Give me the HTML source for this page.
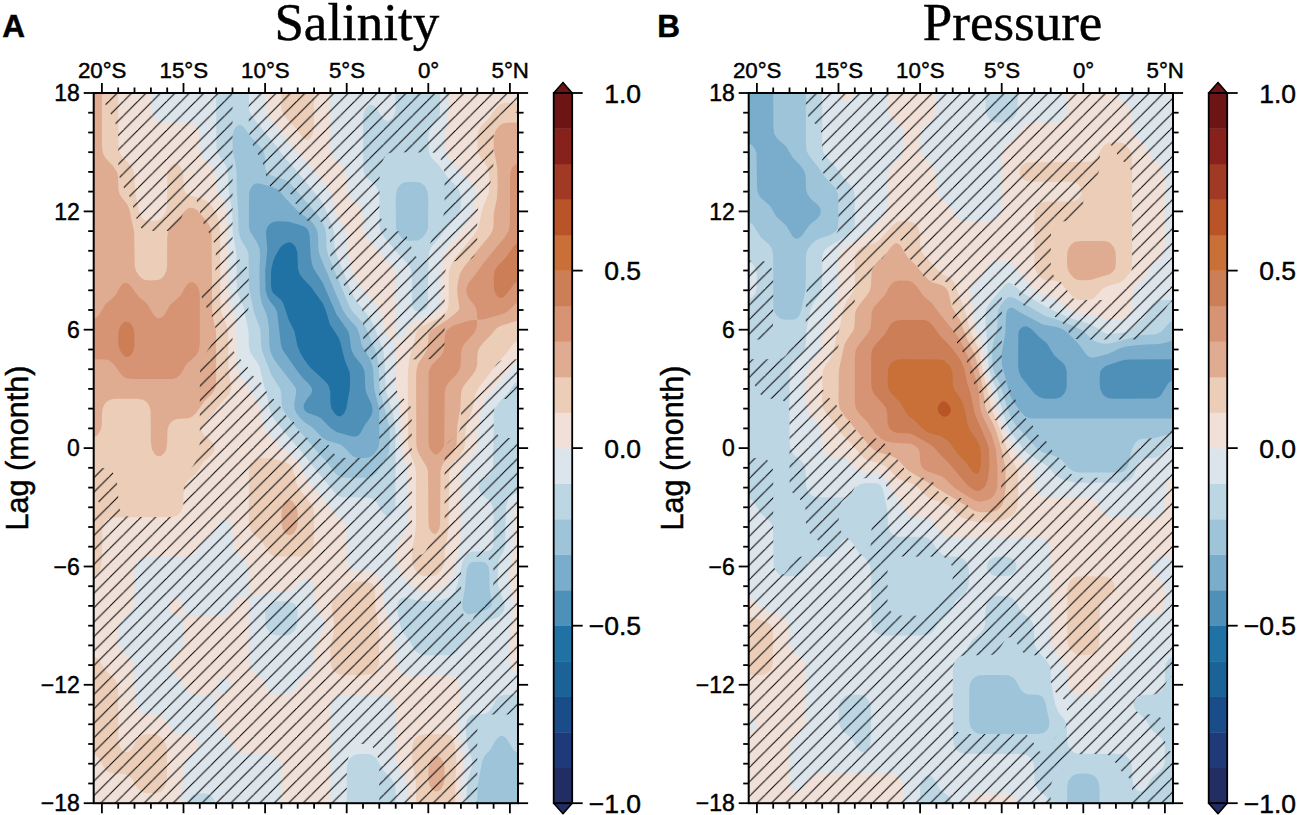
<!DOCTYPE html><html><head><meta charset="utf-8"><style>text{stroke:#000;stroke-width:0.45px}html,body{margin:0;padding:0;background:#fff;width:1297px;height:815px;overflow:hidden}svg{display:block}</style></head><body>
<svg width="1297" height="815" viewBox="0 0 1297 815" font-family="Liberation Sans, sans-serif" fill="#000"><defs><pattern id="hatA" patternUnits="userSpaceOnUse" x="8.00" y="0" width="14.45" height="14.45"><path d="M-1 15.45 L15.45 -1 M13.45 28.90 L28.90 13.45 M-3 3 L3 -3" stroke="#000" stroke-width="1.0" fill="none"/></pattern><pattern id="hatB" patternUnits="userSpaceOnUse" x="13.90" y="0" width="14.45" height="14.45"><path d="M-1 15.45 L15.45 -1 M13.45 28.90 L28.90 13.45 M-3 3 L3 -3" stroke="#000" stroke-width="1.0" fill="none"/></pattern></defs>
<clipPath id="cA"><rect x="93.7" y="93.0" width="424.3" height="710.2"/></clipPath><clipPath id="hA"><path clip-rule="evenodd" d="M103.6 93.0 232.5 93.0 232.6 247.1 233.4 251.9 235.8 256.4 243.7 263.1 246.4 266.3 248.3 271.1 248.8 278.4 248.7 304.9 248.2 309.7 245.7 315.2 235.8 324.1 233.3 328.9 232.6 333.7 232.5 341.0 232.6 345.8 233.4 350.6 236.1 355.4 245.7 363.9 252.0 374.7 261.5 383.0 267.4 393.1 269.4 395.6 276.3 401.2 278.5 403.6 285.2 414.8 294.5 422.8 300.0 432.5 302.9 435.8 306.9 437.7 318.7 438.3 322.7 439.2 326.7 442.1 332.5 452.1 336.5 456.2 340.4 457.7 352.3 458.0 368.1 457.8 372.0 456.8 375.6 454.1 377.3 451.7 378.3 449.3 379.2 444.5 379.2 372.3 378.2 367.4 377.0 365.0 374.0 361.5 366.7 355.4 364.0 350.6 363.2 345.8 363.0 316.9 362.3 309.7 360.2 305.1 358.2 302.8 352.3 298.2 349.5 295.2 344.4 286.0 342.4 283.6 334.5 277.1 332.1 273.6 331.2 271.1 330.5 266.3 330.0 232.6 328.6 228.0 326.9 225.4 324.6 223.3 320.7 221.6 308.9 221.1 304.9 220.0 302.9 218.8 301.0 216.8 298.9 213.4 294.9 201.3 291.1 194.5 289.1 192.9 287.2 192.1 275.3 191.1 273.3 190.2 271.4 188.3 269.4 185.3 267.1 179.7 263.5 165.4 261.7 160.4 253.1 146.0 249.7 136.3 248.8 126.7 248.8 93.0 518.1 93.0 518.1 112.7 506.2 112.8 502.3 113.9 500.3 115.6 498.3 118.3 495.0 126.7 493.6 136.3 493.2 172.4 490.4 182.8 488.5 187.0 481.1 198.9 478.0 208.6 477.3 215.8 477.2 244.7 476.3 251.9 473.6 256.7 470.7 259.2 466.7 260.5 456.9 260.7 452.9 261.4 448.9 263.9 445.8 268.7 444.7 276.0 444.6 343.4 444.2 348.2 443.1 352.0 441.1 355.2 439.1 357.1 435.2 358.9 407.5 359.4 403.6 360.2 399.9 362.6 398.0 365.0 396.8 367.4 395.8 372.3 395.7 384.3 397.2 391.5 399.6 395.3 406.9 401.2 409.0 403.6 410.4 406.0 411.7 410.8 412.1 543.2 413.0 548.0 415.4 552.3 417.4 554.0 419.4 554.8 421.4 554.7 423.3 553.7 425.3 551.8 431.9 540.8 441.1 532.8 443.1 529.6 444.1 526.3 444.6 519.1 444.6 456.5 445.0 449.3 446.7 444.5 448.3 442.1 456.8 434.9 459.8 430.0 460.8 425.2 461.2 410.8 462.5 406.0 466.1 401.2 472.2 396.3 474.4 393.9 480.6 383.3 490.4 374.7 495.9 365.0 498.3 362.2 500.3 360.8 504.2 359.5 518.1 359.3 518.1 398.8 504.2 399.0 502.3 399.4 498.9 401.2 496.4 403.9 494.3 408.4 493.6 418.0 493.7 425.2 494.4 428.8 495.9 432.5 498.3 435.4 500.3 436.8 504.2 438.0 518.1 438.2 518.1 714.4 492.4 714.4 486.5 714.9 482.5 716.8 479.0 721.3 477.6 726.2 477.3 731.0 477.3 803.2 379.3 803.2 379.3 767.1 377.8 757.5 374.9 750.2 372.0 746.3 368.1 744.3 362.1 744.0 358.2 744.3 354.3 746.0 351.1 750.2 348.3 757.5 346.8 767.1 346.7 803.2 93.7 803.2 93.7 516.4 97.1 514.3 99.1 511.9 100.2 509.5 100.5 507.1 100.1 504.7 98.9 502.3 96.7 499.9 93.7 498.2 93.7 467.8 107.6 468.2 109.5 469.0 111.5 470.7 113.4 473.4 115.6 478.2 117.6 485.4 118.8 507.1 121.4 512.6 125.3 515.9 131.2 517.1 170.7 517.1 176.6 515.8 180.6 512.3 182.1 509.5 183.3 504.7 183.8 487.8 185.3 480.6 188.5 472.8 194.4 463.7 196.4 459.7 199.3 449.3 199.8 442.1 199.8 374.7 200.4 367.4 202.2 360.2 204.3 355.4 210.4 345.8 212.8 341.0 215.1 333.7 215.5 328.9 214.7 324.1 213.2 319.3 210.2 313.3 204.3 304.0 201.7 297.6 200.7 292.8 201.4 288.0 202.6 285.6 204.5 283.2 212.2 276.9 214.1 274.1 215.3 271.1 216.1 263.9 215.6 249.5 214.1 243.1 212.2 238.0 204.4 225.4 202.3 220.6 198.3 205.4 196.4 200.0 194.4 196.7 192.4 195.2 190.4 195.4 188.5 197.3 185.5 203.7 180.6 221.6 178.6 225.8 176.6 228.4 174.7 230.0 172.7 230.7 168.7 231.1 147.0 231.0 143.1 229.8 141.1 228.1 139.1 225.2 137.1 220.6 131.2 200.1 129.3 196.0 123.3 186.9 119.5 177.3 118.4 170.0 118.2 136.3 117.4 129.1 114.2 119.5 107.6 109.0 104.6 102.6 102.2 93.0ZM388.5 153.2 385.8 155.2 382.8 160.4 380.4 167.6 379.6 172.4 379.4 208.6 381.1 218.2 383.9 225.1 385.8 228.0 387.8 229.8 391.8 231.0 401.6 231.6 403.6 232.5 405.6 234.2 408.8 239.9 413.9 254.3 417.4 258.1 419.4 258.9 421.4 258.8 423.3 257.8 426.4 254.3 431.5 239.9 433.9 235.0 440.0 225.4 443.5 215.8 444.6 206.1 444.6 177.3 444.0 170.0 442.9 165.2 441.1 160.2 439.1 156.6 437.1 154.3 433.2 152.4 393.7 152.2ZM468.5 557.6 465.1 560.0 463.2 562.5 461.4 567.3 461.0 572.1 460.9 598.6 461.2 605.8 462.8 613.1 466.1 620.2 468.7 622.3 470.7 621.7 472.7 619.5 474.6 615.3 477.6 605.8 480.1 601.0 482.5 598.3 488.5 593.7 492.0 588.9 493.3 584.1 493.6 574.5 493.4 569.7 492.4 564.9 490.4 561.2 488.5 559.1 486.5 557.8 482.5 556.8 472.7 556.7Z"/></clipPath><g clip-path="url(#cA)"><rect x="93.7" y="93.0" width="424.3" height="710.2" fill="#dde5ec"/><path fill="#f0e0d8" d="M95.7 93.0 150.9 93.0 150.9 107.4 151.4 112.3 153.3 117.1 156.9 120.8 158.9 121.8 162.8 122.5 190.4 123.0 194.4 124.9 197.9 129.1 199.4 133.9 199.9 148.4 200.7 153.2 203.3 158.0 212.2 167.4 215.1 172.4 216.0 177.3 216.6 189.3 218.6 194.1 224.0 203.1 226.3 211.0 228.3 254.3 228.5 290.4 230.2 302.4 234.6 316.9 236.2 326.5 236.8 365.0 238.0 372.3 239.8 376.0 246.3 384.3 251.6 393.9 255.6 398.7 258.7 403.6 260.4 408.4 264.0 425.2 267.4 432.7 280.8 446.9 291.1 454.4 295.9 458.9 299.4 463.7 304.9 475.2 308.9 481.2 326.2 502.3 334.5 513.9 341.1 519.1 344.4 523.0 346.4 528.8 346.8 560.0 347.4 564.9 348.7 567.3 351.6 569.7 354.3 570.6 370.0 571.5 374.0 572.5 377.9 574.9 381.2 579.3 383.3 586.5 383.9 605.8 385.3 610.6 391.0 625.1 395.3 646.7 396.0 663.6 397.5 668.4 399.1 670.8 401.6 673.1 403.6 674.1 407.5 674.9 451.0 675.3 454.9 676.8 456.9 678.5 458.9 681.2 460.8 687.6 460.9 699.7 460.4 704.5 457.8 716.5 457.3 723.8 464.1 762.3 463.9 767.1 461.1 783.9 460.9 803.2 407.8 803.2 407.8 788.8 406.9 781.5 403.8 774.3 397.3 764.7 395.9 759.9 395.6 711.7 395.0 704.5 393.7 701.2 391.8 698.3 389.8 696.6 385.8 695.0 340.4 695.0 338.5 695.5 335.4 697.3 331.8 702.1 330.6 706.9 330.4 711.7 330.4 803.2 281.4 803.2 281.3 767.1 280.3 762.3 277.4 757.5 275.3 755.6 271.4 754.2 241.8 753.4 237.8 751.6 235.8 749.6 229.0 738.2 220.4 731.0 217.4 726.2 216.2 718.9 216.0 694.9 196.4 694.7 190.4 693.4 186.5 690.0 180.6 679.8 178.6 677.5 172.7 672.9 169.3 668.4 168.7 664.1 169.6 661.2 171.2 658.8 178.6 652.7 181.4 649.1 183.1 644.3 183.5 639.5 183.5 617.8 182.6 615.7 178.6 615.6 174.7 614.6 170.7 611.5 168.9 608.2 168.6 605.8 169.0 603.4 170.2 601.0 172.7 598.6 174.7 597.8 177.8 598.6 180.5 601.0 182.7 605.8 183.4 615.4 184.5 615.8 220.0 615.7 224.0 615.1 227.9 612.8 229.9 610.5 235.3 601.0 237.8 598.5 241.8 596.7 248.3 596.2 248.8 598.6 248.8 658.8 249.7 666.0 252.2 670.8 261.5 678.9 267.4 689.1 269.4 691.5 271.4 693.0 275.3 694.4 285.2 694.6 289.1 694.1 291.1 693.2 295.0 689.6 301.0 679.4 310.8 670.5 312.8 666.9 313.7 663.6 314.2 649.1 315.0 644.3 317.5 639.5 323.1 632.3 324.6 628.6 325.1 625.1 324.6 622.5 322.7 618.2 316.7 610.6 314.8 606.2 314.1 601.0 313.9 588.9 312.7 584.1 310.8 580.9 308.9 579.0 306.9 578.2 304.9 578.2 302.9 579.0 301.0 580.8 296.7 586.5 293.9 588.9 291.1 590.1 287.2 590.8 271.4 591.4 255.6 595.6 249.7 596.0 248.8 593.8 248.7 572.1 247.6 564.9 244.7 560.0 237.8 554.4 234.5 550.4 232.9 545.6 232.4 531.2 231.6 526.3 229.9 522.7 227.9 520.4 226.0 519.1 224.0 518.8 222.0 519.4 219.5 521.5 212.2 533.4 203.4 540.8 196.4 552.5 192.4 555.5 186.5 556.6 145.1 556.8 141.1 558.1 138.7 560.0 135.7 564.9 134.7 569.7 134.5 601.0 133.9 605.8 131.2 611.4 121.4 620.3 119.4 624.0 118.5 627.5 118.3 639.5 119.4 647.0 122.0 651.5 131.2 659.6 133.2 663.1 134.1 666.0 134.8 702.1 135.9 706.9 137.3 709.3 139.4 711.7 143.1 713.8 156.9 714.7 160.8 716.0 164.1 718.9 170.7 728.3 174.7 732.2 178.6 733.9 188.5 734.3 192.4 735.3 196.2 738.2 197.6 740.6 198.3 743.0 198.3 745.4 197.5 747.8 194.4 751.7 187.4 757.5 184.6 762.3 183.7 767.1 183.2 781.5 180.6 794.3 179.4 803.2 93.7 803.2 93.7 93.0ZM221.0 678.0 218.8 680.4 216.8 685.2 216.2 692.5 218.1 694.6 224.0 693.9 226.8 692.5 229.9 688.9 231.0 685.2 229.9 680.8 227.6 678.0 226.0 677.0 224.0 676.7ZM265.4 93.0 330.4 93.0 330.4 146.0 331.3 153.2 333.9 158.0 342.4 165.2 345.5 170.0 346.5 174.9 347.3 191.7 348.3 194.5 350.3 197.5 358.2 204.2 361.4 208.6 362.7 213.4 363.5 230.2 365.2 235.0 366.9 237.4 376.0 247.0 382.7 256.7 391.8 266.1 394.7 271.1 395.6 278.4 395.6 338.6 393.7 339.4 389.8 338.3 387.8 336.6 385.9 333.7 383.9 328.6 380.9 314.5 378.0 307.3 376.0 304.2 365.4 292.8 356.2 280.0 352.5 273.6 351.0 268.7 347.1 249.5 346.6 235.0 345.8 230.2 343.4 225.4 338.5 218.8 336.5 215.1 334.5 209.1 332.0 196.5 329.3 189.3 325.8 184.5 318.7 177.3 310.8 166.2 299.0 153.7 270.7 119.5 267.3 114.7 266.1 112.3 265.2 107.4ZM449.0 93.0 518.1 93.0 518.1 360.7 514.1 364.2 510.2 368.9 488.5 395.2 484.5 401.2 481.8 408.4 478.0 427.6 477.4 432.5 477.1 444.5 476.3 449.3 473.7 454.1 463.7 466.2 461.4 471.0 461.0 475.8 460.7 543.2 457.1 555.2 454.9 567.3 452.9 573.7 451.0 577.7 447.0 583.1 443.6 586.5 440.2 588.9 435.2 590.7 423.3 590.9 417.4 589.4 411.5 585.1 399.0 572.1 397.5 569.7 396.0 564.9 395.7 552.8 396.6 545.6 399.2 540.8 403.6 535.5 405.6 532.2 407.4 526.3 407.8 478.2 407.4 468.6 403.3 456.5 401.6 449.3 400.2 413.2 398.8 401.2 395.9 386.7 395.7 339.8 401.6 338.6 403.6 337.1 405.6 334.4 409.5 326.0 411.0 324.1 413.5 322.2 432.9 314.5 436.7 312.1 438.9 309.7 439.9 307.3 440.4 302.4 440.8 268.7 441.7 261.5 443.5 254.3 447.8 247.1 468.7 221.1 471.4 215.8 472.9 211.0 476.0 194.1 475.7 189.3 472.7 184.5 464.8 176.3 456.9 165.3 449.0 157.2 446.3 153.2 445.0 149.3 444.7 136.3 448.5 114.7ZM518.1 503.8 518.1 504.7 518.1 674.2 516.0 673.2 513.4 670.8 510.8 666.0 510.0 661.2 509.9 649.1 510.2 627.5 513.1 613.0 513.8 605.8 513.1 598.6 510.2 584.1 510.1 569.7 513.8 548.0 514.2 511.9 515.3 507.1Z"/>
<path fill="#ebcdb8" d="M95.7 93.0 118.2 93.0 118.5 148.4 119.4 151.9 121.4 155.6 130.4 165.2 133.3 170.0 134.4 174.9 135.1 191.7 139.1 211.4 141.1 216.6 143.1 219.3 145.1 220.6 147.0 221.1 156.9 220.8 160.8 218.4 165.0 213.4 166.1 211.0 167.1 206.1 167.2 177.3 167.7 172.4 168.7 169.4 170.7 166.3 172.7 164.6 174.7 163.8 176.6 164.0 178.6 165.0 180.6 167.0 182.2 170.0 183.3 174.9 183.6 186.9 184.9 191.7 187.1 194.1 190.4 195.8 200.3 198.3 206.2 200.8 212.2 206.6 216.6 213.4 218.7 220.6 220.1 232.6 220.4 307.3 222.0 314.5 226.2 324.1 228.1 331.3 228.5 369.9 231.3 389.1 229.6 393.9 220.0 404.2 212.2 415.2 204.7 422.8 202.0 427.6 201.7 430.0 202.4 432.5 204.3 435.1 212.4 442.1 214.1 445.2 214.6 449.3 213.9 451.7 212.2 454.4 204.3 461.0 202.3 463.4 196.4 473.6 188.5 480.2 186.1 483.0 184.8 485.4 183.7 490.2 182.9 507.1 180.6 512.3 176.6 515.8 172.7 517.0 115.4 517.2 111.5 517.5 107.6 519.2 105.2 521.5 103.7 523.9 102.2 528.8 101.9 560.0 101.0 567.3 98.5 572.1 95.9 574.5 93.7 575.6 93.7 93.0ZM283.2 93.0 314.1 93.0 313.9 129.1 312.8 134.3 310.8 137.7 308.9 139.5 306.9 140.0 304.9 139.5 302.9 138.1 294.4 126.7 287.2 119.3 283.6 114.7 281.8 109.8 281.4 105.0 281.4 93.0ZM500.3 104.3 504.2 103.1 518.1 102.9 518.1 340.3 513.6 343.4 506.2 353.6 496.4 364.1 490.8 372.3 479.3 386.7 476.5 391.5 475.0 396.3 472.2 410.8 467.2 422.8 465.7 427.6 464.9 444.5 463.9 449.3 459.5 456.5 451.0 465.9 449.1 471.0 448.6 526.3 447.5 536.0 445.0 548.0 443.9 564.9 441.1 570.3 437.1 574.4 435.2 575.5 431.2 576.3 423.3 576.0 419.4 574.4 415.0 569.7 412.6 564.9 412.0 560.0 412.3 548.0 414.9 536.0 416.0 526.3 416.1 473.4 415.1 466.2 409.5 451.7 408.1 444.5 407.8 374.7 409.1 360.2 410.8 353.0 413.9 343.4 415.9 333.7 418.3 328.9 421.4 326.4 439.1 318.1 443.8 314.5 447.5 309.7 448.6 304.9 448.9 273.6 450.4 266.3 454.9 258.3 473.9 235.0 478.3 227.8 482.5 208.6 488.5 193.9 489.2 189.3 489.4 179.7 488.9 172.4 487.5 167.6 484.5 162.5 480.6 157.8 478.2 153.2 477.3 146.0 477.6 133.9 478.6 130.4 480.7 126.7 489.8 117.1 496.6 107.4ZM257.5 458.6 261.5 458.0 271.4 458.2 285.2 462.3 289.1 464.1 291.3 466.2 292.8 468.6 296.3 483.0 298.4 487.8 309.8 502.3 312.8 507.1 313.6 509.5 314.0 514.3 313.6 545.6 312.8 548.6 310.8 552.1 306.9 555.4 302.9 556.4 299.0 556.6 277.3 556.5 273.3 555.9 268.9 552.8 261.5 540.8 253.6 534.2 251.1 531.2 249.3 526.3 248.8 521.5 248.9 471.0 249.9 466.2 251.6 463.0 253.6 460.7ZM356.2 581.6 368.3 581.7 372.0 583.4 374.2 586.5 375.0 591.3 375.4 608.2 379.2 629.9 379.0 663.6 377.9 667.3 375.9 670.8 373.1 673.2 370.0 674.5 364.1 675.0 340.4 674.7 336.5 673.2 333.8 670.8 332.2 668.4 330.7 663.6 330.5 649.1 333.7 632.3 334.2 625.1 331.6 605.8 332.5 602.3 334.5 599.4 342.4 592.9 348.3 585.3 352.3 582.6ZM94.5 656.3 97.7 658.5 99.7 661.0 105.6 671.1 113.5 677.7 115.4 680.0 117.4 684.4 118.2 690.1 118.4 740.6 119.3 745.4 121.4 749.2 123.3 751.1 125.3 752.0 127.3 752.1 129.3 751.2 132.4 747.8 138.1 738.2 141.1 735.7 145.1 734.4 152.9 734.2 156.9 734.6 160.8 737.0 165.5 743.0 166.5 745.4 167.1 750.2 166.9 781.5 164.8 787.7 160.8 791.7 156.9 793.1 152.9 793.3 145.1 793.1 141.1 791.8 137.2 788.1 132.1 779.1 129.3 776.0 125.3 774.1 113.5 773.5 108.2 771.9 105.6 769.7 103.7 767.1 99.8 759.9 98.0 757.5 93.7 754.6 93.7 656.0ZM419.4 735.2 425.3 734.2 447.0 734.2 451.0 735.6 452.9 738.3 455.0 745.4 456.5 762.3 455.3 783.9 455.2 803.2 416.2 803.2 415.8 781.5 412.3 762.3 412.1 747.8 412.9 743.0 413.9 740.6 415.6 738.2Z"/>
<path fill="#dfac91" d="M95.7 93.0 101.9 93.0 101.9 146.0 102.8 153.2 105.4 158.0 113.5 166.5 117.2 172.4 118.1 177.3 118.4 189.3 119.4 193.4 121.0 196.5 127.3 204.6 129.3 209.0 134.2 232.6 134.7 266.3 136.0 271.1 139.1 275.8 141.9 278.4 145.1 280.0 151.0 280.4 158.9 279.7 161.4 278.4 163.9 276.0 166.4 271.1 167.1 266.3 167.2 237.4 167.9 232.6 168.8 230.2 172.1 225.4 179.3 218.2 184.6 211.0 187.7 208.6 190.4 207.8 192.4 207.9 194.6 208.6 198.0 211.0 208.2 223.2 210.5 227.8 211.6 232.6 212.1 309.7 213.3 319.3 215.8 331.3 216.1 336.2 216.1 379.5 215.7 386.7 214.9 389.1 212.2 393.5 204.3 401.6 196.4 412.5 192.4 416.5 188.5 418.2 176.6 418.9 173.2 420.4 170.5 422.8 168.7 425.8 167.5 430.0 167.0 444.5 166.2 449.3 164.8 452.2 162.8 454.6 160.8 455.9 158.9 456.3 156.9 455.8 154.9 454.4 151.9 449.3 150.9 442.1 150.6 410.8 149.3 406.0 147.9 403.6 145.6 401.2 143.1 399.7 137.2 398.8 115.4 398.8 111.5 399.2 107.6 400.9 104.9 403.6 102.6 408.4 102.0 413.2 101.7 425.2 100.7 430.0 97.7 434.9 93.7 437.5 93.7 93.0ZM502.3 123.7 506.2 122.7 518.1 122.6 518.1 320.5 502.3 325.2 498.3 327.1 495.8 328.9 489.7 336.2 482.5 343.4 479.1 348.2 478.1 350.6 477.3 355.4 477.1 365.0 475.8 369.9 472.6 374.7 464.9 384.3 462.0 389.1 461.0 393.9 460.4 408.4 457.2 425.2 456.7 442.1 456.1 446.9 453.4 451.7 446.5 458.9 443.1 463.7 441.8 466.2 440.5 471.0 440.1 523.9 439.1 529.3 437.1 532.8 435.2 534.0 433.2 533.6 430.8 531.2 429.2 527.9 428.5 523.9 428.0 471.0 426.3 466.2 418.9 454.1 417.1 449.3 416.3 444.5 416.1 377.1 416.5 369.9 417.8 365.0 419.4 361.5 425.1 353.0 427.5 348.2 428.5 336.2 428.9 333.7 430.3 331.3 433.0 328.9 447.0 320.1 457.0 312.1 458.8 309.7 459.3 307.3 457.5 295.2 457.2 288.0 458.2 280.8 460.0 273.6 464.5 266.3 490.1 235.0 492.7 230.2 493.5 225.4 493.8 213.4 496.8 198.9 497.7 186.9 497.2 167.6 493.7 148.4 493.8 136.3 495.2 131.5 496.7 129.1 500.3 125.1ZM289.1 499.7 291.1 500.5 293.1 502.1 296.5 507.1 297.6 511.9 297.7 516.7 297.6 523.9 296.5 528.8 295.0 531.6 293.1 533.8 291.1 534.9 289.1 535.2 287.2 534.5 285.2 532.9 282.6 528.8 281.6 523.9 281.4 516.7 281.7 509.5 283.0 504.7 285.2 501.4 287.2 500.0ZM433.2 756.8 435.2 755.8 437.1 755.7 440.4 757.5 443.5 762.3 444.5 767.1 444.5 779.1 443.8 783.9 441.1 789.2 439.1 790.8 437.1 791.6 434.6 791.2 431.5 788.8 430.0 786.4 428.6 781.5 428.3 771.9 428.8 764.7 430.5 759.9Z"/>
<path fill="#d69474" d="M518.1 162.8 518.1 301.5 509.6 309.7 504.2 313.4 484.5 319.3 478.6 319.8 477.3 319.3 476.9 312.1 475.6 307.3 474.3 304.9 468.7 297.9 467.3 295.2 466.5 292.8 466.5 288.0 468.7 282.7 474.6 275.5 482.8 263.9 504.6 237.4 509.0 230.2 509.9 223.0 510.1 174.9 511.1 170.0 512.3 167.6 514.3 165.2ZM125.3 282.7 127.3 283.1 130.3 285.6 139.1 297.3 145.1 301.9 147.9 304.9 152.9 313.8 154.9 316.3 156.9 317.7 158.9 318.2 162.4 316.9 164.7 314.5 170.1 304.9 180.6 295.4 186.2 285.6 188.5 283.3 190.4 282.3 192.4 282.2 194.4 283.0 196.4 284.7 198.3 287.8 199.6 292.8 199.8 297.6 199.8 343.4 198.8 350.6 196.2 355.4 186.5 364.0 180.6 374.2 176.6 377.7 172.7 378.9 168.7 379.0 133.2 379.0 127.3 378.5 124.1 377.1 121.4 374.7 114.5 365.0 109.5 360.5 105.6 359.4 93.7 359.3 93.7 319.1 97.3 316.9 99.4 314.5 105.6 304.0 113.3 297.6 115.4 295.2 121.4 285.0 123.3 283.3ZM466.7 321.3 470.7 320.3 476.6 320.0 477.2 321.7 476.8 326.5 475.1 331.3 473.6 333.7 464.6 343.4 462.0 348.2 461.1 353.0 460.7 365.0 459.4 369.9 456.2 374.7 449.0 382.0 446.0 386.7 444.7 393.9 444.2 444.5 443.5 446.9 440.2 451.7 437.1 454.3 435.2 454.5 433.2 453.3 430.1 449.3 429.1 446.9 428.4 442.1 428.6 372.3 429.3 369.9 432.0 365.0 441.1 355.4 443.1 352.0 444.5 345.8 444.7 336.2 446.2 331.3 448.3 328.9 452.9 325.7Z"/>
<path fill="#cc7e56" d="M516.1 243.9 518.1 242.3 518.1 281.1 514.1 283.7 507.5 292.8 504.2 296.4 502.3 297.6 500.3 297.9 498.3 297.0 496.5 295.2 494.2 290.4 493.6 278.4 494.6 271.1 497.3 266.3 506.5 256.7 513.2 247.1ZM127.3 321.7 129.3 322.5 131.0 324.1 133.2 327.8 134.2 331.3 134.5 338.6 134.4 345.8 133.5 350.6 131.2 354.8 129.3 356.5 127.3 357.0 125.3 356.5 123.3 355.0 120.0 350.6 118.5 345.8 118.2 338.6 118.6 331.3 120.1 326.5 123.3 322.6 125.3 321.7Z"/>
<path fill="#bcd6e4" d="M218.1 93.0 248.8 93.0 249.1 109.8 249.8 112.3 252.5 117.1 276.2 146.0 284.8 158.0 295.0 168.7 320.7 200.0 324.6 207.0 333.0 227.8 334.2 232.6 334.6 247.1 335.4 251.9 350.3 289.0 356.2 301.0 369.4 316.9 374.0 326.0 383.3 350.6 384.8 365.0 385.5 389.1 392.9 413.2 395.4 427.6 395.5 504.7 393.7 510.6 391.8 513.4 389.8 514.9 387.8 515.5 385.8 515.2 383.9 514.0 381.9 511.8 376.5 502.3 374.1 499.9 372.0 498.6 366.1 497.5 342.4 497.3 338.5 496.0 336.5 494.5 312.8 466.3 301.6 451.7 292.8 442.1 277.3 423.3 273.3 417.9 271.0 413.2 269.5 408.4 267.3 396.3 263.5 383.9 259.8 367.4 257.5 362.7 252.2 355.4 249.7 350.6 248.9 345.8 248.5 331.3 244.7 312.1 243.6 307.3 238.5 295.2 237.1 290.4 236.7 285.6 236.5 254.3 232.8 232.6 232.2 211.0 228.5 189.3 227.9 172.4 226.0 166.0 217.8 153.2 216.4 148.4 216.1 93.0ZM395.7 93.0 440.4 93.0 439.9 112.3 439.1 115.6 437.1 119.8 431.7 126.7 429.2 131.5 428.3 138.7 428.7 150.8 430.2 155.6 431.7 158.0 439.1 165.6 447.6 177.3 454.9 184.7 458.5 189.3 459.8 191.7 460.8 196.5 460.6 208.6 458.7 213.4 454.9 218.3 447.0 226.5 441.2 235.0 431.6 247.1 429.1 251.9 428.3 259.1 428.0 304.9 427.2 307.3 425.0 309.7 421.4 311.5 419.4 311.8 415.4 310.7 414.0 309.7 412.6 307.3 412.0 302.4 411.9 276.0 410.8 268.7 407.9 263.9 397.7 253.2 384.6 237.4 381.3 232.6 380.2 230.2 379.4 225.4 379.3 196.5 378.7 191.7 376.0 186.0 366.1 177.1 364.1 173.3 363.3 170.0 363.0 119.5 363.3 114.7 364.7 109.8 368.1 105.7 370.0 104.7 373.0 105.0 376.2 107.4 381.8 117.1 383.9 119.4 385.8 120.6 387.8 120.9 389.8 120.3 393.1 117.1 395.1 112.3 395.6 107.4ZM518.1 380.4 518.1 492.7 514.1 494.1 510.2 497.1 508.2 500.0 506.5 504.7 505.6 511.9 505.2 545.6 503.9 550.4 498.9 560.0 497.8 567.3 497.8 581.7 498.3 586.5 504.5 603.4 504.5 608.2 503.8 610.6 502.3 613.6 498.3 617.3 484.5 621.7 479.3 625.1 472.7 632.7 464.8 639.2 458.9 649.3 456.9 651.8 453.9 653.9 451.0 654.9 445.0 655.2 425.3 655.2 419.4 654.1 415.4 651.1 409.5 640.9 403.6 633.5 401.6 629.9 400.1 625.1 396.9 608.2 397.3 603.4 399.6 599.7 401.6 598.1 403.6 597.5 405.6 597.6 417.4 600.6 425.3 601.1 439.1 600.6 449.0 597.8 452.9 594.5 455.8 588.9 458.1 581.7 462.3 562.5 464.5 557.6 466.7 554.6 468.7 553.0 472.7 551.6 484.5 551.3 488.5 550.7 490.4 549.8 492.2 548.0 493.1 545.6 493.6 540.8 493.6 514.3 492.9 507.1 490.4 501.9 488.5 499.8 482.5 495.2 480.3 492.6 479.1 490.2 478.6 487.8 478.9 485.4 480.0 483.0 481.9 480.6 490.3 473.4 491.8 471.0 493.2 466.2 493.6 415.6 494.1 410.8 494.9 408.4 498.3 403.2 507.2 393.9 513.9 384.3ZM271.4 602.5 277.3 601.2 289.1 601.5 294.0 603.4 296.3 605.8 297.6 610.6 297.2 625.1 295.0 630.3 291.1 634.0 289.1 634.9 285.2 635.5 275.3 635.3 271.4 633.8 267.5 629.9 266.3 627.5 265.3 622.6 265.3 610.6 265.8 608.2 267.1 605.8ZM506.2 694.8 518.1 694.7 518.1 803.2 466.6 803.2 466.9 783.9 468.6 776.7 471.9 767.1 472.4 762.3 471.5 757.5 468.7 750.1 466.7 741.8 465.7 726.2 466.7 720.7 468.7 717.2 470.7 715.5 474.6 714.5 484.5 713.9 488.5 711.9 490.9 709.3 494.8 702.1 498.3 697.5 502.3 695.3ZM354.3 754.9 358.2 754.0 368.1 754.0 372.0 755.0 376.0 758.1 382.7 769.5 391.8 779.0 394.6 783.9 395.6 788.8 395.7 803.2 346.7 803.2 346.7 771.9 347.2 764.7 348.3 761.0 350.3 757.9ZM196.4 793.5 204.3 793.4 208.2 794.2 211.2 796.0 213.4 798.4 215.5 803.2 188.2 803.2 189.9 798.4 191.5 796.0 194.4 793.9Z"/>
<path fill="#9ec4d9" d="M237.8 125.4 239.8 124.9 241.8 125.4 243.7 126.9 251.6 137.7 259.5 145.8 263.2 150.8 264.8 155.6 265.4 167.6 266.0 170.0 267.5 172.4 271.4 175.4 285.0 179.7 289.1 182.1 316.8 213.7 320.7 219.1 323.8 225.4 325.5 230.2 326.2 235.0 326.4 247.1 327.9 254.3 346.7 300.0 349.8 307.3 352.3 311.3 361.9 321.7 365.2 326.5 374.6 348.2 376.8 355.4 378.7 365.0 379.5 386.7 380.2 391.5 389.5 427.6 390.0 442.1 389.0 451.7 386.1 458.9 376.1 473.4 372.0 476.6 366.1 477.7 346.4 477.7 342.4 477.5 338.5 476.2 334.5 472.6 326.6 461.5 318.7 453.6 303.1 434.9 293.1 423.8 285.3 413.2 282.5 408.4 281.5 403.6 281.3 393.9 280.3 389.1 271.4 374.7 261.9 350.6 261.1 345.8 260.3 328.9 253.8 312.1 249.0 288.0 248.5 254.3 247.0 249.5 241.8 241.0 240.2 237.4 238.5 230.2 238.0 208.6 236.7 189.3 236.6 172.4 235.4 162.8 232.8 150.8 232.5 143.6 232.6 136.3 233.4 131.5 235.8 127.0ZM407.5 181.9 417.4 182.0 421.4 183.1 425.3 186.5 427.7 191.7 428.3 198.9 428.0 227.8 427.3 230.5 424.7 235.0 421.4 238.6 417.4 240.6 407.5 240.8 403.6 239.4 401.3 237.4 397.7 232.7 396.0 227.8 395.7 198.9 396.3 191.7 397.7 188.1 400.6 184.5 403.6 182.6ZM472.7 562.0 480.6 561.8 484.5 562.4 486.5 563.7 488.5 566.7 489.3 572.1 489.7 588.9 491.9 603.4 491.3 605.8 490.4 606.9 486.5 609.8 472.7 613.8 468.7 614.3 465.9 613.0 463.7 610.6 462.5 608.2 462.2 603.4 464.8 588.9 466.7 569.7 468.7 564.5 470.7 562.7ZM498.3 737.2 500.3 736.1 502.3 735.9 504.2 736.6 506.2 738.1 513.8 750.2 518.1 753.1 518.1 803.2 477.3 803.2 477.4 786.4 482.5 760.3 484.5 756.1 490.4 749.4 495.4 740.6Z"/>
<path fill="#7aaccb" d="M255.6 183.5 259.5 183.5 272.1 186.9 277.3 189.3 280.1 191.7 286.1 198.9 297.9 211.0 310.8 220.7 314.6 225.4 316.8 229.4 318.0 235.0 318.4 249.5 319.4 254.3 321.2 259.1 342.7 309.7 347.4 316.9 355.9 326.5 357.5 328.9 359.2 333.7 361.9 345.8 370.0 358.9 373.0 367.4 374.2 389.1 378.5 406.0 379.2 410.8 379.3 442.1 378.5 446.9 377.5 449.3 374.0 454.2 370.0 457.1 366.1 457.9 360.2 457.9 356.2 457.6 353.5 456.5 350.3 454.1 344.0 446.9 340.4 444.6 326.6 440.3 322.7 438.0 312.5 427.6 304.9 422.4 301.0 419.0 296.5 413.2 294.5 408.4 294.3 403.6 296.3 391.5 296.0 389.1 295.0 386.7 277.3 364.1 273.3 358.1 271.4 354.0 270.2 350.6 269.4 345.8 269.0 328.9 267.7 319.3 266.5 314.5 261.6 302.4 259.8 292.8 259.4 273.6 260.1 254.3 259.7 249.5 257.5 243.2 250.7 232.6 249.7 230.2 248.9 225.4 249.0 194.1 250.2 189.3 251.5 186.9 253.6 184.7Z"/>
<path fill="#4f90b8" d="M271.4 222.9 273.3 222.0 277.3 221.3 289.1 221.8 302.9 226.1 306.0 227.8 308.1 230.2 309.6 235.0 310.7 256.7 312.0 263.9 313.7 268.7 322.7 282.7 336.6 314.5 348.2 331.3 349.5 336.2 351.1 348.2 352.3 352.0 354.3 355.7 361.6 365.0 364.1 369.9 364.8 374.7 365.4 389.1 366.8 393.9 372.0 405.2 372.5 410.8 372.0 413.4 370.0 417.7 364.6 425.2 360.8 432.5 358.2 435.4 356.2 436.5 352.3 436.5 336.5 432.0 330.6 427.9 320.7 418.0 316.8 416.0 306.9 412.6 304.9 410.8 303.8 408.4 303.7 406.0 304.3 403.6 306.9 399.2 311.1 393.9 312.0 391.5 312.0 389.1 311.0 386.7 309.1 384.3 302.9 378.0 298.2 372.3 283.0 350.6 281.9 348.2 280.8 343.4 277.1 312.1 274.9 307.3 270.9 302.4 267.8 297.6 265.5 290.4 265.2 271.1 267.3 249.5 266.0 232.6 266.3 230.2 267.4 227.1 269.4 224.5Z"/>
<path fill="#2072a4" d="M285.2 243.4 289.1 242.3 291.1 242.8 293.1 244.0 295.6 247.1 297.3 251.9 298.0 268.7 299.4 273.6 302.9 278.4 310.8 286.7 322.7 303.2 325.6 309.7 329.8 324.1 338.5 337.6 340.4 342.2 344.8 360.2 349.7 372.3 350.1 379.5 349.8 389.1 346.3 408.4 344.1 413.2 342.4 415.1 340.4 416.2 338.5 416.2 336.5 415.2 334.5 413.2 331.5 408.4 330.5 403.6 330.2 391.5 329.0 386.7 327.8 384.3 324.6 380.7 310.2 367.4 304.9 360.5 300.3 353.0 297.4 345.8 294.4 331.3 288.5 319.3 283.2 302.9 281.2 299.9 273.3 293.3 271.8 290.4 271.0 285.6 271.0 273.6 271.4 268.7 273.3 260.8 275.3 255.9 279.3 249.0 281.2 246.6Z"/><rect x="93.7" y="93.0" width="424.3" height="710.2" fill="url(#hatA)" clip-path="url(#hA)"/></g><g stroke="#000" stroke-width="1.8"><line x1="101.9" y1="93.0" x2="101.9" y2="83.0"/><line x1="101.9" y1="803.2" x2="101.9" y2="813.2"/><line x1="118.2" y1="93.0" x2="118.2" y2="87.5"/><line x1="118.2" y1="803.2" x2="118.2" y2="808.7"/><line x1="134.5" y1="93.0" x2="134.5" y2="87.5"/><line x1="134.5" y1="803.2" x2="134.5" y2="808.7"/><line x1="150.9" y1="93.0" x2="150.9" y2="87.5"/><line x1="150.9" y1="803.2" x2="150.9" y2="808.7"/><line x1="167.2" y1="93.0" x2="167.2" y2="87.5"/><line x1="167.2" y1="803.2" x2="167.2" y2="808.7"/><line x1="183.5" y1="93.0" x2="183.5" y2="83.0"/><line x1="183.5" y1="803.2" x2="183.5" y2="813.2"/><line x1="199.8" y1="93.0" x2="199.8" y2="87.5"/><line x1="199.8" y1="803.2" x2="199.8" y2="808.7"/><line x1="216.1" y1="93.0" x2="216.1" y2="87.5"/><line x1="216.1" y1="803.2" x2="216.1" y2="808.7"/><line x1="232.5" y1="93.0" x2="232.5" y2="87.5"/><line x1="232.5" y1="803.2" x2="232.5" y2="808.7"/><line x1="248.8" y1="93.0" x2="248.8" y2="87.5"/><line x1="248.8" y1="803.2" x2="248.8" y2="808.7"/><line x1="265.1" y1="93.0" x2="265.1" y2="83.0"/><line x1="265.1" y1="803.2" x2="265.1" y2="813.2"/><line x1="281.4" y1="93.0" x2="281.4" y2="87.5"/><line x1="281.4" y1="803.2" x2="281.4" y2="808.7"/><line x1="297.7" y1="93.0" x2="297.7" y2="87.5"/><line x1="297.7" y1="803.2" x2="297.7" y2="808.7"/><line x1="314.1" y1="93.0" x2="314.1" y2="87.5"/><line x1="314.1" y1="803.2" x2="314.1" y2="808.7"/><line x1="330.4" y1="93.0" x2="330.4" y2="87.5"/><line x1="330.4" y1="803.2" x2="330.4" y2="808.7"/><line x1="346.7" y1="93.0" x2="346.7" y2="83.0"/><line x1="346.7" y1="803.2" x2="346.7" y2="813.2"/><line x1="363.0" y1="93.0" x2="363.0" y2="87.5"/><line x1="363.0" y1="803.2" x2="363.0" y2="808.7"/><line x1="379.3" y1="93.0" x2="379.3" y2="87.5"/><line x1="379.3" y1="803.2" x2="379.3" y2="808.7"/><line x1="395.7" y1="93.0" x2="395.7" y2="87.5"/><line x1="395.7" y1="803.2" x2="395.7" y2="808.7"/><line x1="412.0" y1="93.0" x2="412.0" y2="87.5"/><line x1="412.0" y1="803.2" x2="412.0" y2="808.7"/><line x1="428.3" y1="93.0" x2="428.3" y2="83.0"/><line x1="428.3" y1="803.2" x2="428.3" y2="813.2"/><line x1="444.6" y1="93.0" x2="444.6" y2="87.5"/><line x1="444.6" y1="803.2" x2="444.6" y2="808.7"/><line x1="460.9" y1="93.0" x2="460.9" y2="87.5"/><line x1="460.9" y1="803.2" x2="460.9" y2="808.7"/><line x1="477.3" y1="93.0" x2="477.3" y2="87.5"/><line x1="477.3" y1="803.2" x2="477.3" y2="808.7"/><line x1="493.6" y1="93.0" x2="493.6" y2="87.5"/><line x1="493.6" y1="803.2" x2="493.6" y2="808.7"/><line x1="509.9" y1="93.0" x2="509.9" y2="83.0"/><line x1="509.9" y1="803.2" x2="509.9" y2="813.2"/><line x1="93.7" y1="803.2" x2="83.7" y2="803.2"/><line x1="518.1" y1="803.2" x2="528.1" y2="803.2"/><line x1="93.7" y1="783.5" x2="88.2" y2="783.5"/><line x1="518.1" y1="783.5" x2="523.6" y2="783.5"/><line x1="93.7" y1="763.7" x2="88.2" y2="763.7"/><line x1="518.1" y1="763.7" x2="523.6" y2="763.7"/><line x1="93.7" y1="744.0" x2="88.2" y2="744.0"/><line x1="518.1" y1="744.0" x2="523.6" y2="744.0"/><line x1="93.7" y1="724.3" x2="88.2" y2="724.3"/><line x1="518.1" y1="724.3" x2="523.6" y2="724.3"/><line x1="93.7" y1="704.6" x2="88.2" y2="704.6"/><line x1="518.1" y1="704.6" x2="523.6" y2="704.6"/><line x1="93.7" y1="684.8" x2="83.7" y2="684.8"/><line x1="518.1" y1="684.8" x2="528.1" y2="684.8"/><line x1="93.7" y1="665.1" x2="88.2" y2="665.1"/><line x1="518.1" y1="665.1" x2="523.6" y2="665.1"/><line x1="93.7" y1="645.4" x2="88.2" y2="645.4"/><line x1="518.1" y1="645.4" x2="523.6" y2="645.4"/><line x1="93.7" y1="625.7" x2="88.2" y2="625.7"/><line x1="518.1" y1="625.7" x2="523.6" y2="625.7"/><line x1="93.7" y1="605.9" x2="88.2" y2="605.9"/><line x1="518.1" y1="605.9" x2="523.6" y2="605.9"/><line x1="93.7" y1="586.2" x2="88.2" y2="586.2"/><line x1="518.1" y1="586.2" x2="523.6" y2="586.2"/><line x1="93.7" y1="566.5" x2="83.7" y2="566.5"/><line x1="518.1" y1="566.5" x2="528.1" y2="566.5"/><line x1="93.7" y1="546.7" x2="88.2" y2="546.7"/><line x1="518.1" y1="546.7" x2="523.6" y2="546.7"/><line x1="93.7" y1="527.0" x2="88.2" y2="527.0"/><line x1="518.1" y1="527.0" x2="523.6" y2="527.0"/><line x1="93.7" y1="507.3" x2="88.2" y2="507.3"/><line x1="518.1" y1="507.3" x2="523.6" y2="507.3"/><line x1="93.7" y1="487.6" x2="88.2" y2="487.6"/><line x1="518.1" y1="487.6" x2="523.6" y2="487.6"/><line x1="93.7" y1="467.8" x2="88.2" y2="467.8"/><line x1="518.1" y1="467.8" x2="523.6" y2="467.8"/><line x1="93.7" y1="448.1" x2="83.7" y2="448.1"/><line x1="518.1" y1="448.1" x2="528.1" y2="448.1"/><line x1="93.7" y1="428.4" x2="88.2" y2="428.4"/><line x1="518.1" y1="428.4" x2="523.6" y2="428.4"/><line x1="93.7" y1="408.6" x2="88.2" y2="408.6"/><line x1="518.1" y1="408.6" x2="523.6" y2="408.6"/><line x1="93.7" y1="388.9" x2="88.2" y2="388.9"/><line x1="518.1" y1="388.9" x2="523.6" y2="388.9"/><line x1="93.7" y1="369.2" x2="88.2" y2="369.2"/><line x1="518.1" y1="369.2" x2="523.6" y2="369.2"/><line x1="93.7" y1="349.5" x2="88.2" y2="349.5"/><line x1="518.1" y1="349.5" x2="523.6" y2="349.5"/><line x1="93.7" y1="329.7" x2="83.7" y2="329.7"/><line x1="518.1" y1="329.7" x2="528.1" y2="329.7"/><line x1="93.7" y1="310.0" x2="88.2" y2="310.0"/><line x1="518.1" y1="310.0" x2="523.6" y2="310.0"/><line x1="93.7" y1="290.3" x2="88.2" y2="290.3"/><line x1="518.1" y1="290.3" x2="523.6" y2="290.3"/><line x1="93.7" y1="270.5" x2="88.2" y2="270.5"/><line x1="518.1" y1="270.5" x2="523.6" y2="270.5"/><line x1="93.7" y1="250.8" x2="88.2" y2="250.8"/><line x1="518.1" y1="250.8" x2="523.6" y2="250.8"/><line x1="93.7" y1="231.1" x2="88.2" y2="231.1"/><line x1="518.1" y1="231.1" x2="523.6" y2="231.1"/><line x1="93.7" y1="211.4" x2="83.7" y2="211.4"/><line x1="518.1" y1="211.4" x2="528.1" y2="211.4"/><line x1="93.7" y1="191.6" x2="88.2" y2="191.6"/><line x1="518.1" y1="191.6" x2="523.6" y2="191.6"/><line x1="93.7" y1="171.9" x2="88.2" y2="171.9"/><line x1="518.1" y1="171.9" x2="523.6" y2="171.9"/><line x1="93.7" y1="152.2" x2="88.2" y2="152.2"/><line x1="518.1" y1="152.2" x2="523.6" y2="152.2"/><line x1="93.7" y1="132.5" x2="88.2" y2="132.5"/><line x1="518.1" y1="132.5" x2="523.6" y2="132.5"/><line x1="93.7" y1="112.7" x2="88.2" y2="112.7"/><line x1="518.1" y1="112.7" x2="523.6" y2="112.7"/><line x1="93.7" y1="93.0" x2="83.7" y2="93.0"/><line x1="518.1" y1="93.0" x2="528.1" y2="93.0"/></g><rect x="93.7" y="93.0" width="424.3" height="710.2" fill="none" stroke="#000" stroke-width="2"/><text x="102.2" y="78.4" text-anchor="middle" font-size="22.3">20°S</text>
<text x="183.8" y="78.4" text-anchor="middle" font-size="22.3">15°S</text>
<text x="265.4" y="78.4" text-anchor="middle" font-size="22.3">10°S</text>
<text x="347.0" y="78.4" text-anchor="middle" font-size="22.3">5°S</text>
<text x="428.6" y="78.4" text-anchor="middle" font-size="22.3">0°</text>
<text x="510.2" y="78.4" text-anchor="middle" font-size="22.3">5°N</text>
<text x="79.8" y="101.1" text-anchor="end" font-size="23">18</text>
<text x="79.8" y="219.5" text-anchor="end" font-size="23">12</text>
<text x="79.8" y="337.8" text-anchor="end" font-size="23">6</text>
<text x="79.8" y="456.2" text-anchor="end" font-size="23">0</text>
<text x="79.8" y="574.6" text-anchor="end" font-size="23">−6</text>
<text x="79.8" y="692.9" text-anchor="end" font-size="23">−12</text>
<text x="79.8" y="811.3" text-anchor="end" font-size="23">−18</text>
<text transform="translate(27.6,448) rotate(-90)" text-anchor="middle" font-size="30.6">Lag (month)</text>
<text x="274.4" y="39.8" font-family="Liberation Serif" font-size="53" stroke="#000" stroke-width="0.9">Salinity</text>
<text x="2.2" y="36.7" font-weight="bold" font-size="31.5">A</text><rect x="553.7" y="767.69" width="18.5" height="35.81" fill="#222d63"/>
<rect x="553.7" y="732.18" width="18.5" height="35.81" fill="#1f3a78"/>
<rect x="553.7" y="696.67" width="18.5" height="35.81" fill="#1a4c89"/>
<rect x="553.7" y="661.16" width="18.5" height="35.81" fill="#1b6397"/>
<rect x="553.7" y="625.65" width="18.5" height="35.81" fill="#2072a4"/>
<rect x="553.7" y="590.14" width="18.5" height="35.81" fill="#4f90b8"/>
<rect x="553.7" y="554.63" width="18.5" height="35.81" fill="#7aaccb"/>
<rect x="553.7" y="519.12" width="18.5" height="35.81" fill="#9ec4d9"/>
<rect x="553.7" y="483.61" width="18.5" height="35.81" fill="#bcd6e4"/>
<rect x="553.7" y="448.10" width="18.5" height="35.81" fill="#dde5ec"/>
<rect x="553.7" y="412.59" width="18.5" height="35.81" fill="#f0e0d8"/>
<rect x="553.7" y="377.08" width="18.5" height="35.81" fill="#ebcdb8"/>
<rect x="553.7" y="341.57" width="18.5" height="35.81" fill="#dfac91"/>
<rect x="553.7" y="306.06" width="18.5" height="35.81" fill="#d69474"/>
<rect x="553.7" y="270.55" width="18.5" height="35.81" fill="#cc7e56"/>
<rect x="553.7" y="235.04" width="18.5" height="35.81" fill="#c97038"/>
<rect x="553.7" y="199.53" width="18.5" height="35.81" fill="#b85428"/>
<rect x="553.7" y="164.02" width="18.5" height="35.81" fill="#a13a24"/>
<rect x="553.7" y="128.51" width="18.5" height="35.81" fill="#86211b"/>
<rect x="553.7" y="93.00" width="18.5" height="35.81" fill="#6d1414"/>
<polygon points="553.7,93.0 563.0,82.4 572.2,93.0" fill="#6d1414" stroke="#000" stroke-width="1.5" stroke-linejoin="round"/>
<polygon points="553.7,803.2 563.0,813.8 572.2,803.2" fill="#222d63" stroke="#000" stroke-width="1.5" stroke-linejoin="round"/>
<rect x="553.7" y="93.0" width="18.5" height="710.2" fill="none" stroke="#000" stroke-width="1.8"/>
<line x1="572.2" y1="93.0" x2="582.7" y2="93.0" stroke="#000" stroke-width="1.8"/>
<text x="641.0" y="102.6" text-anchor="end" font-size="26.5">1.0</text>
<line x1="572.2" y1="270.6" x2="582.7" y2="270.6" stroke="#000" stroke-width="1.8"/>
<text x="641.0" y="280.2" text-anchor="end" font-size="26.5">0.5</text>
<line x1="572.2" y1="448.1" x2="582.7" y2="448.1" stroke="#000" stroke-width="1.8"/>
<text x="641.0" y="457.7" text-anchor="end" font-size="26.5">0.0</text>
<line x1="572.2" y1="625.7" x2="582.7" y2="625.7" stroke="#000" stroke-width="1.8"/>
<text x="641.0" y="635.3" text-anchor="end" font-size="26.5">−0.5</text>
<line x1="572.2" y1="803.2" x2="582.7" y2="803.2" stroke="#000" stroke-width="1.8"/>
<text x="641.0" y="812.8" text-anchor="end" font-size="26.5">−1.0</text>
<clipPath id="cB"><rect x="748.7" y="93.0" width="424.3" height="710.2"/></clipPath><clipPath id="hB"><path clip-rule="evenodd" d="M806.0 93.0 1173.1 93.0 1173.1 300.9 1170.3 302.4 1167.9 304.9 1161.2 316.0 1151.9 324.1 1145.4 335.1 1141.5 338.4 1135.6 339.6 1078.3 339.5 1074.4 338.5 1070.4 335.4 1063.6 324.1 1054.6 316.4 1052.7 313.8 1048.7 306.4 1044.8 302.2 1042.8 301.4 1038.9 301.6 1034.9 303.2 1029.0 306.6 1027.0 307.2 1025.0 306.7 1023.1 304.7 1021.1 300.9 1017.7 290.4 1015.3 285.6 1012.9 283.2 1011.2 282.3 1009.3 282.2 1007.3 282.9 1004.5 285.6 1003.1 288.0 1001.9 292.8 1001.7 345.8 1001.9 367.4 1003.1 374.7 1006.9 384.3 1014.3 396.3 1019.2 410.8 1022.6 415.6 1031.0 422.7 1038.4 434.9 1047.0 442.1 1054.3 454.1 1062.9 461.3 1070.3 473.4 1074.4 476.6 1080.3 477.7 1102.0 477.7 1106.0 477.4 1109.9 475.9 1113.9 471.7 1119.8 461.6 1128.6 454.1 1134.2 444.5 1137.5 440.6 1141.5 438.7 1155.3 437.9 1159.2 436.1 1162.7 432.5 1168.2 422.8 1170.8 420.4 1173.1 419.3 1173.1 675.7 1169.4 678.0 1167.3 680.4 1163.2 688.1 1159.2 692.6 1155.3 694.3 1143.5 694.9 1139.5 695.9 1137.3 697.3 1135.2 699.7 1134.0 702.1 1133.6 704.5 1134.0 706.9 1135.1 709.3 1137.2 711.7 1139.5 713.2 1143.5 714.3 1153.3 714.5 1157.3 715.4 1161.2 718.3 1163.2 721.3 1164.6 726.2 1165.0 740.6 1166.0 745.4 1168.8 750.2 1173.1 753.1 1173.1 803.2 1132.3 803.2 1132.1 786.4 1131.0 781.5 1129.6 778.9 1127.7 776.5 1119.4 769.5 1113.9 759.9 1109.9 755.7 1106.0 754.2 1094.1 753.9 1076.4 754.3 1072.4 756.2 1070.4 758.0 1063.5 769.5 1055.0 776.7 1051.9 781.5 1050.8 786.4 1050.7 803.2 748.7 803.2 748.7 458.0 762.6 458.2 766.5 459.4 770.4 463.1 772.7 468.6 773.2 475.8 773.3 562.5 774.1 567.3 776.4 571.7 778.3 573.6 780.3 574.5 782.3 574.5 784.3 573.7 787.8 569.7 792.2 561.8 796.1 558.1 800.1 556.8 809.9 556.5 813.9 555.9 815.8 555.0 818.3 552.8 819.9 550.4 820.6 548.0 820.7 545.6 820.0 543.2 818.5 540.8 810.0 533.6 807.0 528.8 806.0 523.9 805.6 509.5 804.3 504.7 800.8 499.9 794.7 495.0 792.5 492.6 790.2 487.8 789.5 480.6 789.5 413.2 788.8 408.4 788.0 406.0 786.2 403.1 782.3 399.9 778.3 398.9 766.5 398.4 762.6 396.7 758.6 392.2 754.3 384.3 752.2 381.9 748.7 379.8 748.7 359.3 776.4 359.3 782.3 358.2 786.2 355.0 793.3 343.4 800.1 337.8 803.6 333.7 804.7 331.3 805.7 326.5 805.9 295.2 807.2 288.0 809.9 283.8 817.8 277.3 820.5 273.6 821.9 268.7 822.3 254.3 823.2 249.5 826.0 244.7 833.6 238.4 835.6 236.1 838.0 230.2 838.5 225.4 838.5 198.9 837.9 191.7 835.6 186.6 833.6 184.3 825.7 177.7 823.0 172.4 822.3 167.6 821.8 133.9 820.3 129.1 818.7 126.7 810.2 119.5 807.1 114.7 805.9 107.4ZM1103.7 146.0 1101.8 148.4 1100.1 153.2 1099.3 170.0 1097.9 174.9 1094.2 179.7 1088.1 184.5 1086.0 186.9 1084.2 190.6 1083.4 196.5 1083.1 208.6 1082.0 213.4 1080.8 215.8 1078.3 218.6 1074.4 220.7 1060.6 221.5 1056.8 223.0 1054.6 224.8 1052.7 227.6 1051.0 232.6 1050.7 263.9 1051.5 271.1 1052.7 274.1 1054.6 276.9 1062.3 283.2 1064.4 285.6 1070.4 296.0 1072.4 297.9 1076.4 299.7 1082.3 300.1 1104.0 300.1 1107.9 299.3 1109.9 298.3 1113.1 295.2 1119.8 284.1 1129.0 276.0 1130.5 273.6 1131.9 268.7 1132.3 182.1 1131.7 172.4 1129.6 167.3 1127.7 164.9 1119.4 158.0 1113.9 148.4 1111.9 145.9 1109.9 144.5 1107.9 144.0 1106.0 144.3ZM894.3 235.0 892.8 236.2 890.8 239.6 886.7 251.9 884.9 255.3 882.9 257.7 875.0 264.3 868.0 276.0 859.3 283.4 856.2 288.0 855.0 292.8 854.6 307.3 853.5 312.1 850.3 316.9 843.5 322.4 840.3 326.5 838.8 331.3 838.4 345.8 837.5 350.6 834.8 355.4 826.4 362.6 823.4 367.4 822.2 374.7 822.2 384.3 822.9 389.1 825.7 394.7 835.6 403.6 841.5 413.8 851.5 422.8 857.0 432.5 859.3 435.1 861.2 436.6 865.2 438.0 877.0 438.5 881.0 439.8 884.9 443.6 891.1 454.1 900.7 462.6 905.4 471.0 908.6 474.9 912.5 477.1 926.4 478.0 930.3 479.5 933.9 483.0 938.2 490.9 942.2 495.4 946.1 497.1 957.9 497.6 961.9 498.6 966.2 502.3 971.8 512.0 974.1 514.3 975.7 515.2 977.7 515.4 979.6 514.8 981.6 513.2 988.2 502.3 990.4 499.9 997.4 494.2 999.4 491.6 1001.0 487.8 1001.7 480.6 1001.7 437.3 1000.8 427.6 998.4 422.8 989.9 415.6 986.6 410.8 981.6 396.3 974.2 384.3 972.0 379.5 965.7 357.8 963.3 353.0 957.9 344.9 955.1 338.6 953.3 331.3 952.8 326.5 952.5 292.8 951.4 288.0 950.1 285.6 947.9 283.2 944.1 281.0 930.3 280.2 926.4 278.8 924.4 277.2 922.4 274.8 916.5 264.6 908.6 258.0 905.7 254.3 900.7 240.3 898.7 236.6 896.8 234.8ZM864.0 478.2 861.2 479.3 859.3 480.8 857.3 483.1 851.4 493.3 843.5 499.9 841.4 502.3 839.2 507.1 838.5 514.3 839.0 526.3 840.9 531.2 843.5 534.4 851.4 541.0 856.8 550.4 858.7 552.8 861.2 554.6 863.2 554.9 865.2 554.4 867.2 552.9 870.1 548.0 871.0 543.2 871.5 528.8 872.9 523.9 875.0 520.8 882.8 514.3 884.9 511.8 886.9 507.1 887.5 499.9 886.9 487.8 884.9 483.1 882.9 480.7 881.0 479.2 877.0 477.9 869.1 477.7ZM895.0 557.6 892.8 558.9 889.8 562.5 888.6 564.9 887.6 569.7 887.5 601.0 888.1 605.8 890.2 610.6 892.3 613.0 894.8 614.7 898.7 615.6 924.4 615.7 928.3 615.0 930.3 614.0 933.8 610.6 940.2 599.8 948.1 593.3 951.1 588.9 952.5 584.1 952.7 572.1 952.3 567.3 950.5 562.5 948.6 560.0 946.1 558.1 942.2 556.8 900.7 556.6ZM1005.4 639.5 997.9 651.5 993.5 654.5 989.5 655.2 965.8 655.3 961.9 655.7 957.9 657.7 955.0 661.2 953.2 666.0 952.8 670.8 952.8 718.9 954.0 726.2 956.0 729.7 957.9 731.7 959.9 732.9 963.9 734.0 1019.1 734.2 1025.0 734.6 1027.9 735.8 1031.0 738.4 1036.4 747.8 1038.9 750.7 1040.8 751.9 1042.8 752.2 1044.8 751.6 1048.6 747.8 1054.2 738.2 1062.5 731.1 1065.7 726.2 1066.8 721.3 1067.0 711.7 1066.8 706.9 1065.5 702.1 1062.5 697.7 1055.9 692.5 1052.3 687.6 1050.9 682.8 1050.2 666.0 1048.7 661.8 1046.6 658.8 1044.8 657.2 1040.8 655.6 1029.0 655.1 1025.0 654.0 1021.1 650.6 1016.1 641.9 1013.2 638.5 1011.2 637.4 1009.3 637.3 1007.3 638.0ZM750.7 260.7 762.6 260.9 766.5 262.1 770.4 265.8 772.7 271.1 773.2 280.8 773.2 321.7 772.7 328.9 770.9 333.7 769.1 336.2 766.5 338.2 762.6 339.4 748.7 339.6 748.7 260.7Z"/></clipPath><g clip-path="url(#cB)"><rect x="748.7" y="93.0" width="424.3" height="710.2" fill="#dde5ec"/><path fill="#f0e0d8" d="M839.5 93.0 841.5 93.0 854.2 93.0 853.3 95.5 851.4 98.6 849.4 100.3 847.4 101.1 845.4 101.0 843.9 100.2 841.5 98.0 839.9 95.4 839.1 93.0ZM888.9 93.0 936.4 93.0 936.2 109.8 935.2 114.7 932.1 119.5 923.6 126.7 921.0 131.5 920.1 138.7 920.5 150.8 922.0 155.6 923.6 158.0 932.1 165.2 935.2 170.0 936.2 174.9 936.6 189.3 937.9 194.1 939.2 196.5 941.3 198.9 947.5 203.7 949.7 206.1 956.0 216.8 957.9 218.8 961.9 220.7 967.8 221.2 989.5 221.2 993.5 220.5 997.4 218.0 1000.4 213.4 1001.5 208.6 1001.7 158.0 1002.1 153.2 1003.9 148.4 1007.3 144.3 1014.2 138.7 1023.1 126.7 1027.0 123.6 1031.0 122.7 1056.6 122.4 1060.6 121.0 1062.5 119.5 1064.5 117.1 1066.4 112.3 1066.9 107.4 1067.0 93.0 1116.6 93.0 1117.8 96.3 1119.8 99.2 1127.7 105.7 1130.6 109.8 1132.0 114.7 1132.6 129.1 1134.2 133.9 1137.5 138.5 1145.4 146.7 1152.1 158.0 1160.6 165.2 1163.7 170.0 1164.7 174.9 1164.9 179.7 1164.9 244.7 1163.9 251.9 1161.2 256.8 1153.3 263.4 1151.4 265.7 1145.5 276.0 1137.5 284.2 1134.6 288.0 1132.7 292.8 1132.2 304.9 1131.2 309.7 1127.7 315.2 1123.7 318.6 1119.8 319.7 1109.9 319.6 1096.1 315.7 1078.3 313.2 1072.4 311.5 1065.5 307.3 1056.6 299.2 1052.7 297.4 1042.8 294.7 1035.7 290.4 1030.6 285.6 1026.5 280.8 1013.8 263.9 1011.2 262.1 1007.3 260.9 997.4 260.8 993.5 261.5 991.5 262.4 987.7 266.3 981.6 276.7 973.8 283.2 971.8 285.6 970.2 290.4 972.9 307.3 975.3 328.9 981.1 341.0 982.5 345.8 986.2 372.3 991.4 389.1 995.6 406.0 1005.3 432.6 1009.3 441.0 1019.1 456.1 1023.1 460.3 1030.3 466.2 1032.5 468.6 1033.7 471.0 1035.0 487.8 1036.9 492.0 1038.9 494.4 1042.8 496.8 1046.8 497.4 1090.2 497.8 1094.1 499.6 1096.1 501.5 1102.0 511.6 1104.0 514.0 1106.0 515.5 1109.9 516.9 1153.3 517.0 1157.3 516.2 1159.2 515.1 1161.2 513.2 1163.2 510.2 1164.7 504.7 1165.5 487.8 1167.1 483.6 1169.1 481.0 1173.1 478.4 1173.1 556.6 1161.2 556.7 1157.3 557.2 1152.8 560.0 1151.0 562.5 1150.2 564.9 1150.1 567.3 1150.7 569.7 1152.0 572.1 1160.4 579.3 1163.6 584.1 1164.7 588.9 1164.9 596.2 1164.7 603.4 1163.5 608.2 1161.2 611.9 1157.3 614.8 1153.3 615.7 1141.5 616.3 1138.1 617.8 1135.6 620.2 1133.6 623.6 1132.6 627.5 1132.1 641.9 1131.2 646.7 1130.1 649.1 1127.7 652.4 1119.8 658.9 1112.6 670.8 1104.0 678.1 1102.0 680.5 1096.6 690.1 1094.2 692.5 1092.1 693.6 1088.2 694.6 1078.3 694.6 1074.4 693.6 1070.4 690.5 1068.6 687.6 1067.3 682.8 1066.9 670.8 1066.1 666.0 1063.5 661.2 1054.0 649.1 1051.5 644.3 1050.7 637.1 1050.5 550.4 1049.7 545.6 1046.8 540.5 1042.8 537.8 1038.9 537.0 952.0 536.9 948.1 536.7 944.1 535.1 940.1 531.2 933.3 521.5 930.3 518.9 926.4 517.4 912.5 516.6 908.5 514.3 906.4 511.9 901.0 502.3 894.8 494.5 888.8 483.0 884.9 477.9 881.0 474.5 877.0 473.0 865.2 472.6 861.2 471.9 859.0 471.0 855.6 468.6 849.4 461.7 845.4 458.8 841.5 458.0 831.6 457.5 827.7 455.7 825.7 453.9 823.2 449.3 822.3 444.5 822.0 432.5 820.6 427.6 817.4 422.8 809.9 415.2 807.2 410.8 805.9 403.6 806.2 372.3 806.8 369.9 809.5 365.0 820.4 350.6 821.9 345.8 822.3 333.7 823.0 328.9 825.4 324.1 831.6 316.1 833.6 311.2 838.3 288.0 838.5 259.1 839.1 254.3 840.1 251.9 845.2 247.1 868.1 232.6 875.0 224.6 881.5 218.2 885.2 213.4 886.4 211.0 887.4 206.1 887.5 177.3 888.7 170.0 891.8 165.2 900.2 158.0 902.8 153.2 903.7 148.4 903.8 143.6 903.7 136.3 902.9 131.5 900.3 126.7 890.8 118.3 888.9 115.0 888.0 112.3 887.5 107.4 887.5 93.0ZM750.7 597.7 761.0 608.2 766.0 610.6 778.3 614.2 782.3 616.4 786.2 620.1 787.8 622.6 789.2 627.5 789.7 641.9 790.6 646.7 792.2 649.9 794.1 652.4 802.0 658.9 804.0 661.9 805.4 666.0 805.9 673.2 805.9 714.1 805.3 723.8 804.0 727.5 802.0 730.5 794.1 737.0 792.2 739.5 789.9 745.4 789.6 779.1 790.3 783.9 792.2 787.9 794.1 790.2 796.1 791.4 798.1 791.6 800.1 791.0 802.0 789.5 804.0 787.0 807.9 779.6 809.9 777.1 811.9 775.4 815.8 773.9 892.8 773.8 896.8 774.9 898.7 776.2 900.7 778.3 902.5 781.5 903.6 786.4 903.8 803.2 748.7 803.2 748.7 733.4 752.5 731.0 754.3 728.6 755.3 726.2 755.5 723.8 754.9 721.3 753.6 718.9 751.2 716.5 748.7 715.2 748.7 596.8ZM979.6 793.6 1003.3 793.3 1009.3 793.9 1013.0 796.0 1015.2 798.3 1017.4 803.2 969.7 803.2 971.8 798.5 973.7 796.2 975.7 794.8Z"/>
<path fill="#ebcdb8" d="M1107.9 143.0 1111.9 142.4 1117.8 142.3 1121.7 142.7 1123.7 143.5 1128.8 148.4 1130.4 150.8 1132.0 155.6 1132.3 259.1 1131.7 268.7 1129.4 273.6 1123.7 280.1 1119.8 282.4 1107.9 285.9 1104.0 287.8 1100.9 290.4 1094.1 298.0 1092.1 299.1 1088.2 300.0 1078.3 299.9 1074.4 298.2 1072.4 296.5 1062.5 285.1 1058.6 281.7 1054.6 280.5 1046.8 280.3 1042.8 279.2 1038.9 275.7 1035.8 271.1 1034.9 268.7 1034.4 263.9 1034.4 215.8 1035.1 211.0 1036.0 208.6 1037.4 206.1 1040.8 203.0 1042.8 202.2 1046.8 201.6 1070.4 201.5 1074.4 200.9 1078.2 198.9 1080.4 196.5 1081.5 194.1 1081.9 191.7 1081.6 189.3 1080.5 186.9 1078.3 184.4 1076.4 183.1 1072.4 182.0 1032.9 181.8 1027.0 181.2 1023.8 179.7 1021.3 177.3 1020.0 174.9 1019.5 172.4 1019.7 170.0 1020.6 167.6 1023.1 164.7 1025.0 163.3 1029.0 162.2 1084.2 162.0 1090.2 161.6 1093.2 160.4 1096.1 158.0 1102.0 147.9 1104.0 145.5ZM896.8 222.1 900.7 221.3 910.6 221.6 913.9 223.0 916.6 225.4 918.5 228.4 919.7 232.6 920.3 247.1 921.8 251.9 925.2 256.7 932.4 263.9 938.4 271.1 941.6 273.6 950.0 277.9 953.0 280.8 955.6 285.6 958.7 295.2 963.9 307.0 966.2 314.5 970.0 331.3 977.3 345.8 979.1 350.6 982.8 372.3 987.2 389.1 991.1 408.4 997.6 422.8 1009.9 456.5 1016.7 468.6 1017.6 471.0 1018.0 475.8 1018.0 497.5 1017.4 507.1 1015.4 511.9 1013.5 514.3 1010.5 516.7 1005.3 519.3 997.4 521.4 989.5 522.2 977.7 522.0 967.8 520.1 959.9 516.5 956.0 513.1 950.6 507.1 946.1 503.9 942.2 502.2 933.6 499.9 928.3 497.5 924.4 494.4 918.5 487.8 914.5 484.8 910.6 482.9 902.7 480.7 898.7 479.0 896.8 477.5 888.9 469.0 884.9 466.0 879.0 463.2 867.2 459.9 863.2 457.5 849.4 441.8 841.5 433.8 835.7 425.2 826.1 413.2 823.2 408.4 822.2 401.2 822.5 372.3 824.2 367.4 829.7 359.6 833.0 353.0 836.5 336.2 840.3 324.1 843.8 307.3 847.2 300.0 852.3 292.8 854.4 288.0 854.8 283.2 854.8 259.1 855.4 254.3 857.3 251.0 861.2 247.6 865.2 245.9 875.0 243.0 879.0 240.6 892.8 225.0ZM1076.4 576.8 1082.3 576.3 1106.0 576.6 1107.9 577.2 1111.3 579.3 1113.2 581.7 1114.3 584.1 1114.5 586.5 1114.1 588.9 1112.8 591.3 1110.7 593.8 1104.0 599.2 1102.0 601.7 1100.3 605.8 1099.7 610.6 1099.2 644.3 1098.1 647.9 1096.1 651.1 1094.1 653.0 1090.2 654.8 1080.3 655.2 1076.4 654.4 1074.4 653.3 1070.4 649.1 1068.5 645.8 1067.3 641.9 1067.2 588.9 1068.3 584.1 1070.4 580.5 1072.4 578.6ZM750.7 617.1 764.5 621.2 767.8 622.6 770.8 625.1 772.3 627.5 772.9 629.9 772.9 663.6 771.3 668.4 769.7 670.8 767.0 673.2 764.5 674.4 760.6 674.9 748.7 675.0 748.7 616.4Z"/>
<path fill="#dfac91" d="M1074.4 242.0 1080.3 241.0 1102.0 241.0 1106.0 241.2 1109.9 242.8 1113.8 247.1 1115.5 251.9 1115.9 259.1 1115.7 266.3 1115.0 268.7 1113.5 271.1 1110.6 273.6 1107.9 274.8 1090.2 280.0 1080.3 280.3 1076.4 279.6 1074.4 278.4 1070.4 274.3 1068.5 271.1 1067.2 266.3 1067.0 259.1 1067.4 251.9 1068.5 248.5 1070.9 244.7ZM894.8 243.6 896.8 243.2 898.7 243.9 900.7 245.7 907.2 256.7 914.5 264.1 928.3 279.8 932.3 282.3 942.2 285.3 946.1 288.0 948.5 292.8 951.9 307.3 959.9 320.1 966.9 338.6 974.2 353.0 977.0 362.6 982.6 386.7 985.7 408.4 987.5 413.2 993.5 424.5 995.7 430.0 1001.6 449.3 1005.5 468.6 1005.7 487.8 1003.9 499.9 1002.3 504.7 1000.7 507.1 998.0 509.5 995.4 510.9 991.5 512.0 981.6 512.2 977.7 511.8 973.7 510.4 909.0 471.0 905.9 468.6 898.7 460.3 894.8 457.5 888.9 455.1 879.0 452.4 875.0 450.5 870.5 446.9 866.2 442.1 844.3 415.6 839.6 408.4 838.5 401.2 838.9 369.9 844.1 345.8 846.3 341.0 852.8 331.3 853.9 328.9 854.7 324.1 855.0 314.5 856.1 309.7 859.2 304.9 866.9 295.2 869.9 290.4 871.0 285.6 871.7 271.1 873.5 266.3 877.0 262.4 884.0 256.7 890.8 247.1Z"/>
<path fill="#d69474" d="M898.7 280.6 908.6 280.7 912.5 282.3 916.5 286.2 924.4 297.0 932.3 303.4 940.2 314.5 957.9 336.5 961.9 343.6 968.4 357.8 972.2 367.4 977.7 385.1 978.8 391.5 979.8 406.0 980.8 410.8 983.5 418.0 991.5 434.2 995.9 449.3 997.5 468.6 997.4 485.4 996.4 490.2 994.2 495.0 991.5 498.1 989.5 499.3 983.6 501.1 979.6 501.7 977.7 501.5 973.7 500.1 954.2 487.8 946.1 479.8 942.2 476.6 926.3 471.0 923.2 468.6 921.4 466.2 920.2 461.3 919.6 451.7 918.5 449.3 916.5 446.9 912.8 444.5 910.6 443.8 892.8 442.7 884.9 440.7 881.0 438.8 875.0 432.9 867.2 421.8 859.3 413.7 855.9 408.4 854.9 403.6 854.8 398.7 854.8 357.8 855.6 350.6 858.1 345.8 867.6 333.7 870.2 328.9 871.1 324.1 871.7 312.1 873.8 307.3 884.7 295.2 890.8 284.6 894.8 281.5Z"/>
<path fill="#cc7e56" d="M894.8 321.0 900.7 319.9 920.4 319.9 924.4 320.0 928.3 321.3 932.3 325.0 940.2 336.0 948.1 344.0 954.0 351.0 957.9 356.1 961.9 362.7 964.6 369.9 966.9 381.9 970.7 393.9 974.6 413.2 986.9 442.1 989.0 449.3 989.4 466.2 988.0 478.2 985.7 485.4 983.9 487.8 980.6 490.2 977.7 491.0 975.7 490.7 971.8 488.6 967.8 485.4 948.1 462.3 940.2 454.4 933.7 446.9 930.5 444.5 912.5 434.2 908.6 433.3 898.7 433.0 895.5 432.5 891.0 430.0 888.9 427.6 887.6 422.8 887.3 413.2 886.2 408.4 882.9 403.4 874.0 393.9 871.8 389.1 871.2 381.9 871.2 355.4 871.9 350.6 874.5 345.8 884.9 334.3 890.8 324.1Z"/>
<path fill="#c97038" d="M896.8 359.8 902.7 359.3 940.2 359.4 944.1 360.5 949.0 365.0 950.7 367.4 952.4 372.3 952.9 384.3 954.0 389.1 960.4 398.7 962.9 403.6 964.5 408.4 967.2 422.8 969.8 430.0 977.7 441.3 980.1 446.9 981.1 454.1 980.8 466.2 979.6 470.7 977.7 473.5 975.7 473.9 972.0 471.0 965.8 462.2 957.9 454.1 950.0 443.1 946.7 439.7 940.2 436.1 930.3 433.3 926.4 431.5 921.3 427.6 914.5 420.4 908.6 415.9 906.3 413.2 900.7 403.3 890.0 391.5 888.7 389.1 887.6 384.3 888.0 369.9 888.9 367.0 890.8 363.6 892.8 361.7Z"/>
<path fill="#b85428" d="M944.1 401.0 946.1 401.9 949.8 406.0 950.7 408.4 950.8 410.8 949.9 413.2 948.1 415.4 946.1 416.5 944.1 416.8 942.2 416.1 939.2 413.2 938.1 410.8 937.8 408.4 938.3 406.0 940.2 402.9 942.2 401.4Z"/>
<path fill="#bcd6e4" d="M750.7 93.0 822.2 93.0 822.2 143.6 822.9 150.8 823.9 153.2 827.2 158.0 834.4 165.2 843.1 177.3 852.1 186.9 853.4 189.3 854.6 194.1 854.8 223.0 854.2 227.8 853.1 230.2 847.9 235.0 828.4 247.1 825.3 249.5 823.5 251.9 822.3 256.7 822.1 285.6 821.5 290.4 819.4 295.2 813.6 302.4 810.5 309.7 806.2 331.3 805.8 343.4 805.1 348.2 802.0 353.8 792.2 364.6 790.0 369.9 789.5 377.1 789.5 439.7 789.7 444.5 790.5 449.3 793.2 454.1 801.7 461.3 804.0 464.6 805.7 471.0 805.9 483.0 806.6 487.8 808.8 492.6 811.9 495.6 813.9 496.6 817.8 497.3 839.5 497.4 845.4 497.0 849.5 495.0 851.9 492.6 855.4 487.8 859.3 484.5 865.2 482.9 877.0 483.2 879.0 484.1 881.0 485.8 883.2 490.2 887.2 509.5 888.0 526.3 889.8 531.2 892.8 534.5 894.8 535.7 898.7 536.7 922.4 536.9 926.4 537.4 928.3 538.3 931.2 540.8 938.2 550.4 942.2 554.6 946.1 556.2 959.9 557.1 963.9 559.1 965.8 561.1 967.9 564.9 968.9 569.7 969.0 581.7 968.3 586.5 967.5 588.9 963.9 593.8 956.0 600.4 950.1 610.6 948.1 613.0 939.6 620.2 934.3 629.6 932.3 632.1 928.3 634.7 922.4 635.5 882.9 635.4 879.0 634.6 875.0 631.9 872.4 627.5 871.3 622.6 871.1 572.1 870.0 564.9 867.1 560.0 858.6 552.8 852.9 543.2 849.4 539.4 847.4 538.7 845.4 538.8 843.5 539.7 840.4 543.2 835.6 551.8 831.6 555.3 827.7 556.4 815.8 556.9 811.9 558.4 808.0 562.5 802.5 572.1 798.1 575.4 794.1 576.2 784.3 576.2 780.3 575.1 778.3 573.8 775.1 569.7 773.6 564.9 773.1 531.2 772.4 526.3 771.5 523.9 768.5 519.9 760.6 513.3 754.7 503.2 752.7 500.7 748.7 498.2 748.7 299.4 752.7 296.8 755.4 292.8 756.7 288.0 756.9 283.2 756.7 273.6 755.7 268.7 752.7 264.0 748.7 261.4 748.7 93.0ZM985.6 93.0 1018.0 93.0 1017.7 109.8 1015.8 114.7 1013.2 118.2 1009.3 121.5 1005.3 122.5 995.4 122.3 991.5 120.8 989.8 119.5 987.5 116.5 985.9 112.3 985.4 107.4ZM1007.3 283.0 1009.3 282.6 1011.2 283.3 1022.6 292.8 1038.9 302.8 1051.4 309.7 1072.4 318.7 1089.8 324.1 1094.6 326.5 1104.0 332.5 1107.9 333.9 1111.9 333.9 1123.7 332.4 1127.1 331.3 1131.5 328.9 1144.3 316.9 1146.1 314.5 1151.4 305.1 1155.3 301.6 1159.2 300.3 1173.1 300.1 1173.1 444.0 1167.6 446.9 1161.2 454.2 1157.3 457.0 1153.3 457.9 1145.4 458.1 1141.5 459.4 1139.5 461.5 1138.3 463.7 1133.6 475.8 1129.6 480.1 1125.7 482.0 1121.7 482.7 1080.3 482.7 1072.4 482.2 1062.5 479.5 1056.2 475.8 1047.4 466.2 1027.0 453.1 1023.4 449.3 1018.4 442.1 1010.7 432.5 1007.3 425.0 1001.0 406.0 996.2 389.1 991.5 377.7 989.5 371.4 988.5 365.0 986.9 338.6 985.4 324.1 985.6 312.1 986.9 307.3 990.1 302.4 1003.3 286.5ZM993.5 557.4 997.4 556.7 1005.3 556.7 1009.3 557.2 1011.2 558.0 1013.8 560.0 1015.6 562.5 1016.4 564.9 1016.5 567.3 1015.9 569.7 1014.5 572.1 1011.2 574.9 1007.3 576.1 997.4 576.3 993.5 575.5 991.5 574.6 988.9 572.1 987.5 569.7 986.8 567.3 987.0 564.9 987.8 562.5 989.5 560.1ZM997.4 596.1 1007.3 596.3 1011.2 597.4 1012.9 598.6 1015.2 601.0 1021.1 611.2 1023.1 613.4 1029.0 618.0 1032.6 622.6 1034.0 627.5 1034.5 641.9 1035.4 646.7 1038.1 651.5 1047.1 661.2 1049.8 666.0 1050.6 670.8 1050.9 682.8 1055.2 704.5 1058.2 711.7 1063.9 718.9 1066.2 723.8 1066.9 728.6 1067.4 743.0 1068.5 746.4 1070.4 749.7 1074.4 752.8 1078.3 753.7 1119.8 753.9 1123.7 754.5 1125.7 755.4 1129.6 759.2 1131.6 763.9 1132.6 781.5 1133.6 785.5 1135.6 788.9 1137.5 790.7 1139.5 791.5 1142.2 791.2 1145.4 788.8 1151.4 778.6 1153.3 776.3 1159.2 771.7 1163.0 767.1 1164.0 764.7 1164.8 759.9 1164.8 747.8 1164.0 743.0 1161.4 738.2 1152.9 731.0 1150.9 728.6 1145.4 718.9 1137.5 712.2 1135.1 709.3 1134.0 706.9 1133.6 704.5 1134.0 702.1 1135.6 699.2 1139.5 695.9 1143.5 694.9 1155.3 694.3 1159.2 692.6 1161.2 690.8 1163.3 687.6 1164.6 682.8 1165.1 668.4 1166.0 663.6 1168.9 658.8 1173.1 656.0 1173.1 803.2 1050.0 803.2 1048.7 799.8 1046.8 796.9 1038.9 790.4 1036.0 786.4 1034.6 781.5 1034.2 767.1 1033.2 762.3 1031.0 758.2 1027.1 755.1 1021.1 753.9 963.9 753.7 959.9 752.7 956.0 749.4 953.8 745.4 952.8 738.2 952.8 670.8 953.9 663.6 956.7 658.8 965.8 650.8 972.6 639.5 979.6 633.7 983.0 629.9 984.9 625.1 985.6 608.2 986.9 603.4 988.3 601.0 991.5 597.8 993.5 596.8ZM851.4 694.7 859.3 694.8 863.2 695.5 866.1 697.3 868.3 699.7 870.5 704.5 871.1 711.7 870.7 743.0 869.1 747.5 867.2 750.2 865.2 751.7 863.2 752.2 861.2 751.9 859.3 750.6 857.3 748.4 851.4 738.3 843.5 731.6 841.5 729.4 839.0 723.8 838.6 709.3 840.0 702.1 841.5 699.5 845.4 696.0ZM926.4 775.7 928.3 775.2 930.3 775.7 932.3 777.1 934.3 779.5 939.5 788.8 942.2 791.5 948.1 796.1 950.0 798.5 952.1 803.2 920.1 803.2 920.2 788.8 920.6 783.9 922.6 779.1 924.4 777.0Z"/>
<path fill="#9ec4d9" d="M750.7 93.0 805.9 93.0 805.9 143.6 806.6 150.8 809.0 155.6 818.5 167.6 825.2 177.3 835.6 188.6 838.1 194.1 838.5 220.6 837.9 227.8 835.6 231.5 831.6 234.6 819.8 238.4 815.8 240.2 811.9 243.7 807.7 249.5 806.7 251.9 805.9 256.7 805.8 283.2 805.3 290.4 801.4 309.7 800.1 313.7 798.1 317.1 796.1 318.8 794.1 319.6 784.3 319.7 780.3 318.6 776.4 315.3 774.5 312.1 773.3 304.9 773.2 256.7 772.2 249.5 769.4 244.7 760.6 237.1 753.5 225.4 750.8 223.0 748.7 222.0 748.7 93.0ZM1009.3 297.0 1011.2 296.9 1015.2 298.5 1044.8 315.8 1062.5 321.4 1080.0 328.9 1083.7 331.3 1090.2 337.7 1094.1 340.8 1098.1 342.4 1104.0 343.8 1109.9 343.4 1141.5 334.9 1153.3 334.4 1157.3 333.7 1161.7 331.3 1169.1 323.1 1173.1 320.6 1173.1 433.4 1165.2 434.9 1155.3 437.9 1141.5 438.7 1137.5 440.6 1134.1 444.5 1131.8 449.3 1127.8 466.2 1126.6 468.6 1123.7 471.5 1119.8 472.5 1080.3 472.5 1074.4 471.7 1069.2 468.6 1062.5 460.8 1058.6 457.8 1052.7 455.2 1042.8 452.4 1037.7 449.3 1015.7 425.2 1013.2 421.8 1011.2 418.2 1007.3 408.1 1000.2 384.3 994.1 372.3 992.8 367.4 992.1 355.4 992.3 348.2 993.5 341.8 997.2 328.9 997.7 314.5 998.4 309.7 1000.8 304.9 1003.3 301.4 1007.3 297.8ZM977.7 675.6 985.6 675.0 1005.3 675.0 1009.3 675.6 1013.2 677.7 1015.2 679.9 1021.1 690.1 1023.5 692.5 1027.0 694.2 1036.9 694.8 1040.8 695.7 1042.8 697.3 1045.3 702.1 1049.3 721.3 1049.2 726.2 1046.8 730.5 1042.8 733.3 1036.9 734.1 981.6 734.1 977.7 733.5 973.7 731.3 970.3 726.2 969.2 721.3 969.3 687.6 970.3 682.8 971.8 680.2 973.7 677.9ZM1076.4 774.1 1082.3 773.6 1090.2 774.0 1094.1 775.8 1096.1 777.7 1098.4 781.5 1099.4 786.4 1099.6 803.2 1067.0 803.2 1067.2 786.4 1068.2 781.5 1071.5 776.7 1074.4 774.7Z"/>
<path fill="#7aaccb" d="M750.7 93.0 773.2 93.0 773.3 126.7 774.3 133.9 777.2 138.7 786.2 146.6 793.0 158.0 800.1 165.2 803.7 170.0 805.5 174.9 806.1 189.3 807.3 194.1 810.8 198.9 817.8 204.7 820.3 208.6 820.8 211.0 820.5 213.4 819.5 215.8 817.7 218.2 809.9 224.6 802.0 235.4 798.1 238.5 796.1 238.7 794.1 237.7 792.2 235.7 786.2 225.5 776.4 216.7 770.2 206.1 760.6 197.6 758.6 194.6 757.5 191.7 757.0 186.9 756.5 153.2 754.7 148.4 753.0 146.0 748.7 143.1 748.7 93.0ZM1009.3 308.0 1011.2 307.4 1013.2 308.0 1021.1 312.9 1042.8 324.5 1056.6 326.9 1062.3 328.9 1065.8 331.3 1076.4 341.6 1080.0 345.8 1086.2 354.6 1090.2 357.6 1094.1 357.6 1107.9 354.0 1120.1 348.2 1125.7 346.5 1141.5 344.7 1159.2 344.1 1165.2 342.8 1173.1 340.2 1173.1 418.5 1032.9 418.5 1029.0 418.2 1025.0 416.2 1020.0 410.8 1013.2 401.2 1009.4 393.9 1005.4 377.1 1001.9 365.0 1001.8 353.0 1005.3 333.7 1006.1 314.5 1007.3 310.2Z"/>
<path fill="#4f90b8" d="M1025.0 326.3 1027.1 326.5 1031.4 328.9 1038.9 336.8 1046.8 343.2 1054.3 355.4 1062.5 362.4 1064.6 365.0 1065.8 367.4 1066.8 372.3 1066.7 386.7 1066.3 389.1 1064.5 393.2 1060.6 397.2 1056.6 398.5 1048.7 398.8 1042.8 398.3 1038.9 396.8 1034.9 394.0 1032.9 391.8 1021.1 376.8 1019.2 372.3 1018.2 367.4 1018.3 333.7 1018.8 331.3 1020.0 328.9 1023.1 326.7ZM1123.7 360.1 1129.6 359.4 1173.1 359.3 1173.1 379.8 1169.6 381.9 1167.5 384.3 1161.2 394.9 1159.2 396.7 1155.3 398.4 1113.9 398.8 1107.9 398.1 1104.8 396.3 1102.5 393.9 1100.3 389.1 1099.6 381.9 1100.1 372.3 1102.0 368.8 1106.0 365.7Z"/><rect x="748.7" y="93.0" width="424.3" height="710.2" fill="url(#hatB)" clip-path="url(#hB)"/></g><g stroke="#000" stroke-width="1.8"><line x1="756.9" y1="93.0" x2="756.9" y2="83.0"/><line x1="756.9" y1="803.2" x2="756.9" y2="813.2"/><line x1="773.2" y1="93.0" x2="773.2" y2="87.5"/><line x1="773.2" y1="803.2" x2="773.2" y2="808.7"/><line x1="789.5" y1="93.0" x2="789.5" y2="87.5"/><line x1="789.5" y1="803.2" x2="789.5" y2="808.7"/><line x1="805.9" y1="93.0" x2="805.9" y2="87.5"/><line x1="805.9" y1="803.2" x2="805.9" y2="808.7"/><line x1="822.2" y1="93.0" x2="822.2" y2="87.5"/><line x1="822.2" y1="803.2" x2="822.2" y2="808.7"/><line x1="838.5" y1="93.0" x2="838.5" y2="83.0"/><line x1="838.5" y1="803.2" x2="838.5" y2="813.2"/><line x1="854.8" y1="93.0" x2="854.8" y2="87.5"/><line x1="854.8" y1="803.2" x2="854.8" y2="808.7"/><line x1="871.1" y1="93.0" x2="871.1" y2="87.5"/><line x1="871.1" y1="803.2" x2="871.1" y2="808.7"/><line x1="887.5" y1="93.0" x2="887.5" y2="87.5"/><line x1="887.5" y1="803.2" x2="887.5" y2="808.7"/><line x1="903.8" y1="93.0" x2="903.8" y2="87.5"/><line x1="903.8" y1="803.2" x2="903.8" y2="808.7"/><line x1="920.1" y1="93.0" x2="920.1" y2="83.0"/><line x1="920.1" y1="803.2" x2="920.1" y2="813.2"/><line x1="936.4" y1="93.0" x2="936.4" y2="87.5"/><line x1="936.4" y1="803.2" x2="936.4" y2="808.7"/><line x1="952.7" y1="93.0" x2="952.7" y2="87.5"/><line x1="952.7" y1="803.2" x2="952.7" y2="808.7"/><line x1="969.1" y1="93.0" x2="969.1" y2="87.5"/><line x1="969.1" y1="803.2" x2="969.1" y2="808.7"/><line x1="985.4" y1="93.0" x2="985.4" y2="87.5"/><line x1="985.4" y1="803.2" x2="985.4" y2="808.7"/><line x1="1001.7" y1="93.0" x2="1001.7" y2="83.0"/><line x1="1001.7" y1="803.2" x2="1001.7" y2="813.2"/><line x1="1018.0" y1="93.0" x2="1018.0" y2="87.5"/><line x1="1018.0" y1="803.2" x2="1018.0" y2="808.7"/><line x1="1034.3" y1="93.0" x2="1034.3" y2="87.5"/><line x1="1034.3" y1="803.2" x2="1034.3" y2="808.7"/><line x1="1050.7" y1="93.0" x2="1050.7" y2="87.5"/><line x1="1050.7" y1="803.2" x2="1050.7" y2="808.7"/><line x1="1067.0" y1="93.0" x2="1067.0" y2="87.5"/><line x1="1067.0" y1="803.2" x2="1067.0" y2="808.7"/><line x1="1083.3" y1="93.0" x2="1083.3" y2="83.0"/><line x1="1083.3" y1="803.2" x2="1083.3" y2="813.2"/><line x1="1099.6" y1="93.0" x2="1099.6" y2="87.5"/><line x1="1099.6" y1="803.2" x2="1099.6" y2="808.7"/><line x1="1115.9" y1="93.0" x2="1115.9" y2="87.5"/><line x1="1115.9" y1="803.2" x2="1115.9" y2="808.7"/><line x1="1132.3" y1="93.0" x2="1132.3" y2="87.5"/><line x1="1132.3" y1="803.2" x2="1132.3" y2="808.7"/><line x1="1148.6" y1="93.0" x2="1148.6" y2="87.5"/><line x1="1148.6" y1="803.2" x2="1148.6" y2="808.7"/><line x1="1164.9" y1="93.0" x2="1164.9" y2="83.0"/><line x1="1164.9" y1="803.2" x2="1164.9" y2="813.2"/><line x1="748.7" y1="803.2" x2="738.7" y2="803.2"/><line x1="1173.1" y1="803.2" x2="1183.1" y2="803.2"/><line x1="748.7" y1="783.5" x2="743.2" y2="783.5"/><line x1="1173.1" y1="783.5" x2="1178.6" y2="783.5"/><line x1="748.7" y1="763.7" x2="743.2" y2="763.7"/><line x1="1173.1" y1="763.7" x2="1178.6" y2="763.7"/><line x1="748.7" y1="744.0" x2="743.2" y2="744.0"/><line x1="1173.1" y1="744.0" x2="1178.6" y2="744.0"/><line x1="748.7" y1="724.3" x2="743.2" y2="724.3"/><line x1="1173.1" y1="724.3" x2="1178.6" y2="724.3"/><line x1="748.7" y1="704.6" x2="743.2" y2="704.6"/><line x1="1173.1" y1="704.6" x2="1178.6" y2="704.6"/><line x1="748.7" y1="684.8" x2="738.7" y2="684.8"/><line x1="1173.1" y1="684.8" x2="1183.1" y2="684.8"/><line x1="748.7" y1="665.1" x2="743.2" y2="665.1"/><line x1="1173.1" y1="665.1" x2="1178.6" y2="665.1"/><line x1="748.7" y1="645.4" x2="743.2" y2="645.4"/><line x1="1173.1" y1="645.4" x2="1178.6" y2="645.4"/><line x1="748.7" y1="625.7" x2="743.2" y2="625.7"/><line x1="1173.1" y1="625.7" x2="1178.6" y2="625.7"/><line x1="748.7" y1="605.9" x2="743.2" y2="605.9"/><line x1="1173.1" y1="605.9" x2="1178.6" y2="605.9"/><line x1="748.7" y1="586.2" x2="743.2" y2="586.2"/><line x1="1173.1" y1="586.2" x2="1178.6" y2="586.2"/><line x1="748.7" y1="566.5" x2="738.7" y2="566.5"/><line x1="1173.1" y1="566.5" x2="1183.1" y2="566.5"/><line x1="748.7" y1="546.7" x2="743.2" y2="546.7"/><line x1="1173.1" y1="546.7" x2="1178.6" y2="546.7"/><line x1="748.7" y1="527.0" x2="743.2" y2="527.0"/><line x1="1173.1" y1="527.0" x2="1178.6" y2="527.0"/><line x1="748.7" y1="507.3" x2="743.2" y2="507.3"/><line x1="1173.1" y1="507.3" x2="1178.6" y2="507.3"/><line x1="748.7" y1="487.6" x2="743.2" y2="487.6"/><line x1="1173.1" y1="487.6" x2="1178.6" y2="487.6"/><line x1="748.7" y1="467.8" x2="743.2" y2="467.8"/><line x1="1173.1" y1="467.8" x2="1178.6" y2="467.8"/><line x1="748.7" y1="448.1" x2="738.7" y2="448.1"/><line x1="1173.1" y1="448.1" x2="1183.1" y2="448.1"/><line x1="748.7" y1="428.4" x2="743.2" y2="428.4"/><line x1="1173.1" y1="428.4" x2="1178.6" y2="428.4"/><line x1="748.7" y1="408.6" x2="743.2" y2="408.6"/><line x1="1173.1" y1="408.6" x2="1178.6" y2="408.6"/><line x1="748.7" y1="388.9" x2="743.2" y2="388.9"/><line x1="1173.1" y1="388.9" x2="1178.6" y2="388.9"/><line x1="748.7" y1="369.2" x2="743.2" y2="369.2"/><line x1="1173.1" y1="369.2" x2="1178.6" y2="369.2"/><line x1="748.7" y1="349.5" x2="743.2" y2="349.5"/><line x1="1173.1" y1="349.5" x2="1178.6" y2="349.5"/><line x1="748.7" y1="329.7" x2="738.7" y2="329.7"/><line x1="1173.1" y1="329.7" x2="1183.1" y2="329.7"/><line x1="748.7" y1="310.0" x2="743.2" y2="310.0"/><line x1="1173.1" y1="310.0" x2="1178.6" y2="310.0"/><line x1="748.7" y1="290.3" x2="743.2" y2="290.3"/><line x1="1173.1" y1="290.3" x2="1178.6" y2="290.3"/><line x1="748.7" y1="270.5" x2="743.2" y2="270.5"/><line x1="1173.1" y1="270.5" x2="1178.6" y2="270.5"/><line x1="748.7" y1="250.8" x2="743.2" y2="250.8"/><line x1="1173.1" y1="250.8" x2="1178.6" y2="250.8"/><line x1="748.7" y1="231.1" x2="743.2" y2="231.1"/><line x1="1173.1" y1="231.1" x2="1178.6" y2="231.1"/><line x1="748.7" y1="211.4" x2="738.7" y2="211.4"/><line x1="1173.1" y1="211.4" x2="1183.1" y2="211.4"/><line x1="748.7" y1="191.6" x2="743.2" y2="191.6"/><line x1="1173.1" y1="191.6" x2="1178.6" y2="191.6"/><line x1="748.7" y1="171.9" x2="743.2" y2="171.9"/><line x1="1173.1" y1="171.9" x2="1178.6" y2="171.9"/><line x1="748.7" y1="152.2" x2="743.2" y2="152.2"/><line x1="1173.1" y1="152.2" x2="1178.6" y2="152.2"/><line x1="748.7" y1="132.5" x2="743.2" y2="132.5"/><line x1="1173.1" y1="132.5" x2="1178.6" y2="132.5"/><line x1="748.7" y1="112.7" x2="743.2" y2="112.7"/><line x1="1173.1" y1="112.7" x2="1178.6" y2="112.7"/><line x1="748.7" y1="93.0" x2="738.7" y2="93.0"/><line x1="1173.1" y1="93.0" x2="1183.1" y2="93.0"/></g><rect x="748.7" y="93.0" width="424.3" height="710.2" fill="none" stroke="#000" stroke-width="2"/><text x="757.2" y="78.4" text-anchor="middle" font-size="22.3">20°S</text>
<text x="838.8" y="78.4" text-anchor="middle" font-size="22.3">15°S</text>
<text x="920.4" y="78.4" text-anchor="middle" font-size="22.3">10°S</text>
<text x="1002.0" y="78.4" text-anchor="middle" font-size="22.3">5°S</text>
<text x="1083.6" y="78.4" text-anchor="middle" font-size="22.3">0°</text>
<text x="1165.2" y="78.4" text-anchor="middle" font-size="22.3">5°N</text>
<text x="734.8" y="101.1" text-anchor="end" font-size="23">18</text>
<text x="734.8" y="219.5" text-anchor="end" font-size="23">12</text>
<text x="734.8" y="337.8" text-anchor="end" font-size="23">6</text>
<text x="734.8" y="456.2" text-anchor="end" font-size="23">0</text>
<text x="734.8" y="574.6" text-anchor="end" font-size="23">−6</text>
<text x="734.8" y="692.9" text-anchor="end" font-size="23">−12</text>
<text x="734.8" y="811.3" text-anchor="end" font-size="23">−18</text>
<text transform="translate(682.6,448) rotate(-90)" text-anchor="middle" font-size="30.6">Lag (month)</text>
<text x="922.8" y="39.8" font-family="Liberation Serif" font-size="53" stroke="#000" stroke-width="0.9">Pressure</text>
<text x="657.2" y="36.7" font-weight="bold" font-size="31.5">B</text><rect x="1208.7" y="767.69" width="18.5" height="35.81" fill="#222d63"/>
<rect x="1208.7" y="732.18" width="18.5" height="35.81" fill="#1f3a78"/>
<rect x="1208.7" y="696.67" width="18.5" height="35.81" fill="#1a4c89"/>
<rect x="1208.7" y="661.16" width="18.5" height="35.81" fill="#1b6397"/>
<rect x="1208.7" y="625.65" width="18.5" height="35.81" fill="#2072a4"/>
<rect x="1208.7" y="590.14" width="18.5" height="35.81" fill="#4f90b8"/>
<rect x="1208.7" y="554.63" width="18.5" height="35.81" fill="#7aaccb"/>
<rect x="1208.7" y="519.12" width="18.5" height="35.81" fill="#9ec4d9"/>
<rect x="1208.7" y="483.61" width="18.5" height="35.81" fill="#bcd6e4"/>
<rect x="1208.7" y="448.10" width="18.5" height="35.81" fill="#dde5ec"/>
<rect x="1208.7" y="412.59" width="18.5" height="35.81" fill="#f0e0d8"/>
<rect x="1208.7" y="377.08" width="18.5" height="35.81" fill="#ebcdb8"/>
<rect x="1208.7" y="341.57" width="18.5" height="35.81" fill="#dfac91"/>
<rect x="1208.7" y="306.06" width="18.5" height="35.81" fill="#d69474"/>
<rect x="1208.7" y="270.55" width="18.5" height="35.81" fill="#cc7e56"/>
<rect x="1208.7" y="235.04" width="18.5" height="35.81" fill="#c97038"/>
<rect x="1208.7" y="199.53" width="18.5" height="35.81" fill="#b85428"/>
<rect x="1208.7" y="164.02" width="18.5" height="35.81" fill="#a13a24"/>
<rect x="1208.7" y="128.51" width="18.5" height="35.81" fill="#86211b"/>
<rect x="1208.7" y="93.00" width="18.5" height="35.81" fill="#6d1414"/>
<polygon points="1208.7,93.0 1218.0,82.4 1227.2,93.0" fill="#6d1414" stroke="#000" stroke-width="1.5" stroke-linejoin="round"/>
<polygon points="1208.7,803.2 1218.0,813.8 1227.2,803.2" fill="#222d63" stroke="#000" stroke-width="1.5" stroke-linejoin="round"/>
<rect x="1208.7" y="93.0" width="18.5" height="710.2" fill="none" stroke="#000" stroke-width="1.8"/>
<line x1="1227.2" y1="93.0" x2="1237.7" y2="93.0" stroke="#000" stroke-width="1.8"/>
<text x="1296.0" y="102.6" text-anchor="end" font-size="26.5">1.0</text>
<line x1="1227.2" y1="270.6" x2="1237.7" y2="270.6" stroke="#000" stroke-width="1.8"/>
<text x="1296.0" y="280.2" text-anchor="end" font-size="26.5">0.5</text>
<line x1="1227.2" y1="448.1" x2="1237.7" y2="448.1" stroke="#000" stroke-width="1.8"/>
<text x="1296.0" y="457.7" text-anchor="end" font-size="26.5">0.0</text>
<line x1="1227.2" y1="625.7" x2="1237.7" y2="625.7" stroke="#000" stroke-width="1.8"/>
<text x="1296.0" y="635.3" text-anchor="end" font-size="26.5">−0.5</text>
<line x1="1227.2" y1="803.2" x2="1237.7" y2="803.2" stroke="#000" stroke-width="1.8"/>
<text x="1296.0" y="812.8" text-anchor="end" font-size="26.5">−1.0</text>
</svg></body></html>
